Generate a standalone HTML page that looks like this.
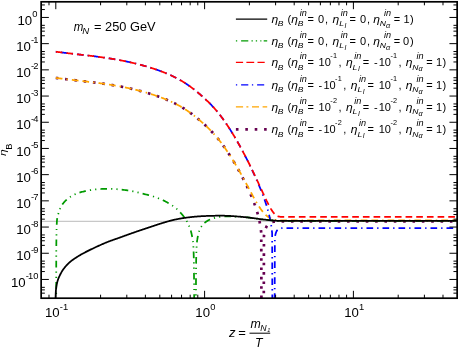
<!DOCTYPE html>
<html><head><meta charset="utf-8"><title>eta_B evolution</title>
<style>html,body{margin:0;padding:0;background:#fff;}body{width:460px;height:347px;overflow:hidden;position:relative;font-family:"Liberation Sans",sans-serif;}</style>
</head><body>
<svg width="460" height="347" viewBox="0 0 460 347" style="position:absolute;left:0;top:0;display:block" font-family="'Liberation Sans', sans-serif" fill="#000">
<defs><clipPath id="fr"><rect x="41.15" y="1.8" width="416.0" height="296.4"/></clipPath></defs>
<rect x="0" y="0" width="460" height="347" fill="#fff"/>
<line x1="41.15" y1="221.4" x2="457.15" y2="221.4" stroke="#c8c8c8" stroke-width="1.1"/>
<g clip-path="url(#fr)">
<path d="M55.80 77.92 L56.30 77.98 L56.80 78.05 L57.30 78.11 L57.80 78.18 L58.30 78.24 L58.80 78.30 L59.30 78.37 L59.80 78.43 L60.30 78.49 L60.80 78.56 L61.30 78.62 L61.80 78.68 L62.30 78.74 L62.80 78.80 L63.30 78.86 L63.80 78.92 L64.30 78.98 L64.80 79.04 L65.30 79.10 L65.80 79.16 L66.30 79.22 L66.80 79.28 L67.30 79.34 L67.80 79.40 L68.30 79.46 L68.80 79.51 L69.30 79.57 L69.80 79.63 L70.30 79.69 L70.80 79.75 L71.30 79.80 L71.80 79.86 L72.30 79.92 L72.80 79.98 L73.30 80.03 L73.80 80.09 L74.30 80.15 L74.80 80.20 L75.30 80.26 L75.80 80.32 L76.30 80.38 L76.80 80.43 L77.30 80.49 L77.80 80.55 L78.30 80.60 L78.80 80.66 L79.30 80.72 L79.80 80.77 L80.30 80.83 L80.80 80.89 L81.30 80.95 L81.80 81.00 L82.30 81.06 L82.80 81.12 L83.30 81.18 L83.80 81.23 L84.30 81.29 L84.80 81.35 L85.30 81.41 L85.80 81.47 L86.30 81.53 L86.80 81.59 L87.30 81.65 L87.80 81.70 L88.30 81.76 L88.80 81.82 L89.30 81.88 L89.80 81.94 L90.30 82.01 L90.80 82.07 L91.30 82.13 L91.80 82.19 L92.30 82.25 L92.80 82.31 L93.30 82.38 L93.80 82.44 L94.30 82.50 L94.80 82.57 L95.30 82.63 L95.80 82.69 L96.30 82.76 L96.80 82.82 L97.30 82.89 L97.80 82.95 L98.30 83.02 L98.80 83.09 L99.30 83.15 L99.80 83.22 L100.30 83.29 L100.80 83.36 L101.30 83.43 L101.80 83.50 L102.30 83.57 L102.80 83.64 L103.30 83.71 L103.80 83.78 L104.30 83.85 L104.80 83.92 L105.30 84.00 L105.80 84.07 L106.30 84.14 L106.80 84.22 L107.30 84.29 L107.80 84.37 L108.30 84.45 L108.80 84.52 L109.30 84.60 L109.80 84.68 L110.30 84.76 L110.80 84.84 L111.30 84.92 L111.80 85.00 L112.30 85.08 L112.80 85.16 L113.30 85.25 L113.80 85.33 L114.30 85.41 L114.80 85.50 L115.30 85.59 L115.80 85.67 L116.30 85.76 L116.80 85.85 L117.30 85.94 L117.80 86.02 L118.30 86.12 L118.80 86.21 L119.30 86.30 L119.80 86.39 L120.30 86.48 L120.80 86.58 L121.30 86.67 L121.80 86.77 L122.30 86.87 L122.80 86.96 L123.30 87.06 L123.80 87.16 L124.30 87.26 L124.80 87.36 L125.30 87.46 L125.80 87.57 L126.30 87.67 L126.80 87.77 L127.30 87.88 L127.80 87.99 L128.30 88.09 L128.80 88.20 L129.30 88.31 L129.80 88.42 L130.30 88.53 L130.80 88.64 L131.30 88.76 L131.80 88.87 L132.30 88.98 L132.80 89.10 L133.30 89.22 L133.80 89.33 L134.30 89.45 L134.80 89.57 L135.30 89.69 L135.80 89.82 L136.30 89.94 L136.80 90.06 L137.30 90.19 L137.80 90.32 L138.30 90.44 L138.80 90.57 L139.30 90.70 L139.80 90.83 L140.30 90.96 L140.80 91.10 L141.30 91.23 L141.80 91.36 L142.30 91.50 L142.80 91.64 L143.30 91.78 L143.80 91.92 L144.30 92.06 L144.80 92.20 L145.30 92.34 L145.80 92.49 L146.30 92.63 L146.80 92.78 L147.30 92.92 L147.80 93.07 L148.30 93.22 L148.80 93.38 L149.30 93.53 L149.80 93.68 L150.30 93.84 L150.80 93.99 L151.30 94.15 L151.80 94.31 L152.30 94.47 L152.80 94.63 L153.30 94.79 L153.80 94.96 L154.30 95.12 L154.80 95.29 L155.30 95.46 L155.80 95.63 L156.30 95.80 L156.80 95.97 L157.30 96.14 L157.80 96.32 L158.30 96.50 L158.80 96.67 L159.30 96.85 L159.80 97.04 L160.30 97.22 L160.80 97.40 L161.30 97.59 L161.80 97.78 L162.30 97.97 L162.80 98.16 L163.30 98.35 L163.80 98.55 L164.30 98.74 L164.80 98.94 L165.30 99.14 L165.80 99.35 L166.30 99.55 L166.80 99.76 L167.30 99.97 L167.80 100.18 L168.30 100.39 L168.80 100.61 L169.30 100.83 L169.80 101.05 L170.30 101.27 L170.80 101.50 L171.30 101.72 L171.80 101.96 L172.30 102.19 L172.80 102.43 L173.30 102.66 L173.80 102.91 L174.30 103.15 L174.80 103.40 L175.30 103.65 L175.80 103.91 L176.30 104.16 L176.80 104.42 L177.30 104.69 L177.80 104.96 L178.30 105.23 L178.80 105.50 L179.30 105.78 L179.80 106.06 L180.30 106.35 L180.80 106.63 L181.30 106.93 L181.80 107.22 L182.30 107.52 L182.80 107.83 L183.30 108.14 L183.80 108.45 L184.30 108.76 L184.80 109.08 L185.30 109.40 L185.80 109.73 L186.30 110.06 L186.80 110.40 L187.30 110.74 L187.80 111.08 L188.30 111.43 L188.80 111.78 L189.30 112.13 L189.80 112.49 L190.30 112.85 L190.80 113.22 L191.30 113.59 L191.80 113.96 L192.30 114.34 L192.80 114.72 L193.30 115.10 L193.80 115.49 L194.30 115.88 L194.80 116.28 L195.30 116.67 L195.80 117.08 L196.30 117.48 L196.80 117.89 L197.30 118.30 L197.80 118.72 L198.30 119.14 L198.80 119.56 L199.30 119.98 L199.80 120.41 L200.30 120.84 L200.80 121.27 L201.30 121.71 L201.80 122.15 L202.30 122.59 L202.80 123.04 L203.30 123.49 L203.80 123.94 L204.30 124.40 L204.80 124.86 L205.30 125.32 L205.80 125.78 L206.30 126.25 L206.80 126.73 L207.30 127.20 L207.80 127.69 L208.30 128.17 L208.80 128.66 L209.30 129.16 L209.80 129.66 L210.30 130.16 L210.80 130.67 L211.30 131.19 L211.80 131.71 L212.30 132.23 L212.80 132.77 L213.30 133.31 L213.80 133.85 L214.30 134.41 L214.80 134.97 L215.30 135.54 L215.80 136.11 L216.30 136.70 L216.80 137.29 L217.30 137.89 L217.80 138.49 L218.30 139.11 L218.80 139.73 L219.30 140.36 L219.80 141.00 L220.30 141.65 L220.80 142.30 L221.30 142.96 L221.80 143.63 L222.30 144.31 L222.80 145.00 L223.30 145.69 L223.80 146.39 L224.30 147.09 L224.80 147.81 L225.30 148.53 L225.80 149.26 L226.30 149.99 L226.80 150.73 L227.30 151.48 L227.80 152.24 L228.30 153.00 L228.80 153.77 L229.30 154.54 L229.80 155.33 L230.30 156.11 L230.80 156.91 L231.30 157.71 L231.80 158.52 L232.30 159.34 L232.80 160.16 L233.30 160.99 L233.80 161.82 L234.30 162.66 L234.80 163.51 L235.30 164.37 L235.80 165.23 L236.30 166.09 L236.80 166.97 L237.30 167.85 L237.80 168.74 L238.30 169.63 L238.80 170.53 L239.30 171.44 L239.80 172.36 L240.30 173.28 L240.80 174.21 L241.30 175.15 L241.80 176.10 L242.30 177.05 L242.80 178.01 L243.30 178.98 L243.80 179.96 L244.30 180.95 L244.80 181.94 L245.30 182.95 L245.80 183.96 L246.30 184.99 L246.80 186.02 L247.30 187.07 L247.80 188.13 L248.30 189.20 L248.80 190.29 L249.30 191.39 L249.80 192.50 L250.00 192.95 L250.05 193.07 L250.10 193.18 L250.15 193.29 L250.20 193.41 L250.25 193.52 L250.30 193.63 L250.35 193.75 L250.40 193.86 L250.45 193.98 L250.50 194.09 L250.55 194.21 L250.60 194.32 L250.65 194.44 L250.70 194.55 L250.75 194.67 L250.80 194.78 L250.85 194.90 L250.90 195.01 L250.95 195.13 L251.00 195.25 L251.05 195.36 L251.10 195.48 L251.15 195.60 L251.20 195.71 L251.25 195.83 L251.30 195.95 L251.35 196.07 L251.40 196.19 L251.45 196.30 L251.50 196.42 L251.55 196.54 L251.60 196.66 L251.65 196.78 L251.70 196.90 L251.75 197.02 L251.80 197.14 L251.85 197.26 L251.90 197.38 L251.95 197.50 L252.00 197.62 L252.05 197.74 L252.10 197.86 L252.15 197.98 L252.20 198.10 L252.25 198.23 L252.30 198.35 L252.35 198.47 L252.40 198.59 L252.45 198.72 L252.50 198.84 L252.55 198.96 L252.60 199.09 L252.65 199.21 L252.70 199.34 L252.75 199.46 L252.80 199.58 L252.85 199.71 L252.90 199.83 L252.95 199.96 L253.00 200.09 L253.05 200.21 L253.10 200.34 L253.15 200.47 L253.20 200.59 L253.25 200.72 L253.30 200.85 L253.35 200.97 L253.40 201.10 L253.45 201.23 L253.50 201.36 L253.55 201.49 L253.60 201.62 L253.65 201.75 L253.70 201.88 L253.75 202.01 L253.80 202.14 L253.85 202.27 L253.90 202.40 L253.95 202.53 L254.00 202.67 L254.05 202.80 L254.10 202.93 L254.15 203.07 L254.20 203.20 L254.25 203.33 L254.30 203.47 L254.35 203.60 L254.40 203.74 L254.45 203.87 L254.50 204.01 L254.55 204.15 L254.60 204.28 L254.65 204.42 L254.70 204.56 L254.75 204.69 L254.80 204.83 L254.85 204.97 L254.90 205.11 L254.95 205.25 L255.00 205.39 L255.05 205.53 L255.10 205.67 L255.15 205.81 L255.20 205.96 L255.25 206.10 L255.30 206.24 L255.35 206.39 L255.40 206.53 L255.45 206.67 L255.50 206.82 L255.55 206.97 L255.60 207.11 L255.65 207.26 L255.70 207.41 L255.75 207.55 L255.80 207.70 L255.85 207.85 L255.90 208.00 L255.95 208.15 L256.00 208.30 L256.05 208.45 L256.10 208.60 L256.15 208.76 L256.20 208.91 L256.25 209.06 L256.30 209.22 L256.35 209.37 L256.40 209.53 L256.45 209.69 L256.50 209.84 L256.55 210.00 L256.60 210.16 L256.65 210.32 L256.70 210.48 L256.75 210.64 L256.80 210.80 L256.85 210.97 L256.90 211.13 L256.95 211.30 L257.00 211.46 L257.05 211.63 L257.10 211.79 L257.15 211.96 L257.20 212.13 L257.25 212.30 L257.30 212.47 L257.35 212.64 L257.40 212.82 L257.45 212.99 L257.50 213.16 L257.55 213.34 L257.60 213.52 L257.65 213.69 L257.70 213.87 L257.75 214.05 L257.80 214.24 L257.85 214.42 L257.90 214.60 L257.95 214.79 L258.00 214.97 L258.05 215.16 L258.10 215.35 L258.15 215.54 L258.20 215.73 L258.25 215.93 L258.30 216.12 L258.35 216.32 L258.40 216.51 L258.45 216.71 L258.50 216.91 L258.55 217.12 L258.60 217.32 L258.65 217.53 L258.70 217.73 L258.75 217.94 L258.80 218.15 L258.85 218.37 L258.90 218.58 L258.95 218.80 L259.00 219.02 L259.05 219.24 L259.10 219.47 L259.15 219.69 L259.20 219.92 L259.25 220.15 L259.30 220.39 L259.35 220.62 L259.40 220.86 L259.45 221.10 L259.50 221.35 L259.55 221.59 L259.60 221.84 L259.65 222.10 L259.70 222.35 L259.75 222.61 L259.80 222.88 L259.85 223.14 L259.90 223.41 L259.95 223.69 L260.00 223.97 L260.05 224.25 L260.10 224.54 L260.15 224.83 L260.20 225.13 L260.25 225.43 L260.30 225.73 L260.35 226.05 L260.40 226.36 L260.45 226.69 L260.50 227.02 L260.55 227.35 L260.60 227.70 L260.65 228.05 L260.70 228.40 L260.75 228.77 L260.80 229.14 L260.85 229.53 L260.90 229.92 L260.95 230.32 L261.00 230.74 L261.05 231.16 L261.10 231.60 L261.15 232.04 L261.20 232.51 L261.25 232.98 L261.45 312.00 L263.75 312.00 L263.95 235.84 L264.00 235.49 L264.05 235.15 L264.10 234.82 L264.15 234.51 L264.20 234.21 L264.25 233.92 L264.30 233.64 L264.35 233.37 L264.40 233.10 L264.45 232.85 L264.50 232.60 L264.55 232.37 L264.60 232.14 L264.65 231.91 L264.70 231.70 L264.75 231.48 L264.80 231.28 L264.85 231.08 L264.90 230.89 L264.95 230.70 L265.00 230.52 L265.05 230.34 L265.10 230.16 L265.15 230.00 L265.20 229.83 L265.25 229.67 L265.30 229.51 L265.35 229.36 L265.40 229.21 L265.45 229.06 L265.50 228.92 L265.55 228.78 L265.60 228.65 L265.65 228.51 L265.70 228.38 L265.75 228.25 L265.80 228.13 L265.85 228.01 L265.90 227.89 L265.95 227.77 L266.00 227.66 L266.05 227.55 L266.10 227.44 L266.15 227.33 L266.20 227.22 L266.25 227.12 L266.30 227.02 L266.35 226.92 L266.40 226.82 L266.45 226.73 L266.50 226.64 L266.55 226.54 L266.60 226.45 L266.65 226.37 L266.70 226.28 L266.75 226.19 L266.80 226.11 L266.85 226.03 L266.90 225.95 L266.95 225.87 L267.00 225.79 L267.05 225.72 L267.10 225.64 L267.15 225.57 L267.20 225.50 L267.25 225.43 L267.30 225.36 L267.35 225.29 L267.40 225.22 L267.45 225.16 L267.50 225.09 L267.55 225.03 L267.60 224.96 L267.65 224.90 L267.70 224.84 L267.75 224.78 L267.80 224.72 L267.85 224.67 L267.90 224.61 L267.95 224.55 L268.00 224.50 L268.05 224.45 L268.10 224.39 L268.15 224.34 L268.20 224.29 L268.25 224.24 L268.30 224.19 L268.35 224.14 L268.40 224.09 L268.45 224.05 L268.50 224.00 L268.55 223.95 L268.60 223.91 L268.65 223.87 L268.70 223.82 L268.75 223.78 L268.80 223.74 L268.85 223.70 L268.90 223.65 L268.95 223.61 L269.00 223.57 L269.05 223.54 L269.10 223.50 L269.15 223.46 L269.20 223.42 L269.25 223.39 L269.30 223.35 L269.35 223.32 L269.40 223.28 L269.45 223.25 L269.50 223.21 L269.55 223.18 L269.60 223.15 L269.65 223.11 L269.70 223.08 L269.75 223.05 L269.80 223.02 L269.85 222.99 L269.90 222.96 L269.95 222.93 L270.00 222.90 L270.05 222.87 L270.10 222.85 L270.15 222.82 L270.20 222.79 L270.25 222.77 L270.30 222.74 L270.35 222.71 L270.40 222.69 L270.45 222.66 L270.50 222.64 L270.55 222.61 L270.60 222.59 L270.65 222.57 L270.70 222.54 L270.75 222.52 L270.80 222.50 L270.85 222.48 L270.90 222.45 L270.95 222.43 L271.00 222.41 L271.05 222.39 L271.10 222.37 L271.15 222.35 L271.20 222.33 L271.25 222.31 L271.30 222.29 L271.35 222.27 L271.40 222.26 L271.45 222.24 L271.50 222.22 L271.55 222.20 L271.60 222.19 L271.65 222.17 L271.70 222.15 L271.75 222.14 L271.80 222.12 L271.85 222.10 L271.90 222.09 L271.95 222.07 L272.00 222.06 L272.05 222.04 L272.10 222.03 L272.15 222.01 L272.20 222.00 L272.25 221.99 L272.30 221.97 L272.35 221.96 L272.40 221.95 L272.45 221.93 L272.50 221.92 L272.55 221.91 L272.60 221.90 L272.65 221.88 L272.70 221.87 L272.75 221.86 L272.80 221.85 L272.85 221.84 L272.90 221.83 L272.95 221.82 L273.00 221.81 L273.05 221.80 L273.10 221.79 L273.15 221.78 L273.20 221.77 L273.25 221.76 L273.30 221.75 L273.35 221.74 L273.40 221.73 L273.45 221.72 L273.50 221.71 L273.55 221.70 L273.60 221.69 L273.65 221.69 L273.70 221.68 L273.75 221.67 L273.80 221.66 L273.85 221.66 L273.90 221.65 L273.95 221.64 L274.00 221.63 L274.05 221.63 L274.10 221.62 L274.15 221.61 L274.20 221.61 L274.25 221.60 L274.30 221.59 L274.35 221.59 L274.40 221.58 L274.45 221.58 L274.50 221.57 L274.55 221.56 L274.60 221.56 L274.65 221.55 L274.70 221.55 L274.75 221.54 L274.80 221.54 L274.85 221.53 L274.90 221.53 L274.95 221.52 L275.00 221.52 L275.05 221.51 L275.10 221.51 L275.15 221.51 L275.20 221.50 L275.25 221.50 L275.30 221.49 L275.35 221.49 L275.40 221.49 L275.45 221.48 L275.50 221.48 L275.55 221.47 L275.60 221.47 L275.65 221.47 L275.70 221.46 L275.75 221.46 L275.80 221.46 L275.85 221.46 L275.90 221.45 L275.95 221.45 L276.00 221.45 L276.05 221.44 L276.10 221.44 L276.15 221.44 L276.20 221.44 L276.25 221.43 L276.30 221.43 L276.35 221.43 L276.40 221.43 L276.45 221.43 L276.50 221.42 L276.55 221.42 L276.60 221.42 L276.65 221.42 L276.70 221.42 L276.75 221.41 L276.80 221.41 L276.85 221.41 L276.90 221.41 L276.95 221.41 L277.00 221.41 L277.05 221.40 L277.10 221.40 L277.15 221.40 L277.20 221.40 L277.25 221.40 L277.30 221.40 L277.35 221.40 L277.40 221.39 L277.45 221.39 L277.50 221.39 L277.55 221.39 L277.60 221.39 L277.65 221.39 L277.70 221.39 L277.75 221.39 L277.80 221.39 L277.85 221.39 L277.90 221.38 L277.95 221.38 L278.00 221.38 L278.05 221.38 L278.10 221.38 L278.15 221.38 L278.20 221.38 L278.25 221.38 L278.30 221.38 L278.35 221.38 L278.40 221.38 L278.45 221.38 L278.50 221.38 L278.55 221.38 L278.60 221.37 L278.65 221.37 L278.70 221.37 L278.75 221.37 L278.80 221.37 L278.85 221.37 L278.90 221.37 L278.95 221.37 L279.00 221.37 L279.05 221.37 L279.10 221.37 L279.15 221.37 L279.20 221.37 L279.25 221.37 L279.30 221.37 L279.35 221.37 L279.40 221.37 L279.45 221.37 L279.50 221.37 L279.55 221.37 L279.60 221.36 L279.65 221.36 L279.70 221.36 L279.75 221.36 L279.80 221.36 L279.85 221.36 L279.90 221.36 L279.95 221.36 L280.00 221.36 L280.05 221.36 L280.10 221.35 L280.15 221.35 L280.20 221.35 L280.25 221.35 L280.30 221.35 L280.35 221.35 L280.40 221.35 L280.45 221.35 L280.50 221.35 L280.55 221.35 L280.60 221.35 L280.65 221.35 L280.70 221.35 L280.75 221.35 L280.80 221.35 L280.85 221.35 L280.90 221.34 L280.95 221.34 L281.00 221.34 L281.05 221.34 L281.10 221.34 L281.15 221.34 L281.20 221.34 L281.25 221.34 L281.30 221.34 L281.35 221.34 L281.40 221.34 L281.45 221.34 L281.50 221.34 L281.55 221.34 L281.60 221.34 L281.65 221.34 L281.70 221.34 L281.75 221.34 L281.80 221.34 L281.85 221.34 L281.90 221.34 L281.95 221.34 L282.00 221.34 L282.05 221.34 L282.10 221.34 L282.15 221.34 L282.20 221.34 L282.25 221.34 L282.30 221.34 L282.35 221.34 L282.40 221.33 L282.45 221.33 L282.50 221.33 L282.55 221.33 L282.60 221.33 L282.65 221.33 L282.70 221.33 L282.75 221.33 L282.80 221.33 L282.85 221.33 L282.90 221.33 L282.95 221.33 L283.00 221.33 L283.05 221.33 L283.10 221.33 L283.15 221.33 L283.20 221.33 L283.25 221.33 L283.30 221.33 L283.35 221.33 L283.40 221.33 L283.45 221.33 L283.50 221.33 L283.55 221.33 L283.60 221.33 L283.65 221.33 L283.70 221.33 L283.75 221.33 L283.80 221.33 L283.85 221.33 L283.90 221.33 L283.95 221.33 L284.00 221.33 L284.05 221.33 L284.10 221.33 L284.15 221.33 L284.20 221.33 L284.25 221.33 L284.30 221.33 L284.35 221.33 L284.40 221.33 L284.45 221.33 L284.50 221.33 L284.55 221.33 L284.60 221.33 L284.65 221.33 L284.70 221.33 L284.75 221.33 L284.80 221.33 L284.85 221.33 L284.90 221.33 L284.95 221.33 L285.00 221.33 L285.05 221.33 L285.10 221.33 L285.15 221.33 L285.20 221.33 L285.25 221.33 L285.30 221.33 L285.35 221.33 L285.40 221.33 L285.45 221.33 L285.50 221.33 L285.55 221.33 L285.60 221.33 L285.65 221.33 L285.70 221.33 L285.75 221.33 L285.80 221.33 L285.85 221.33 L285.90 221.33 L285.95 221.33 L286.00 221.33 L286.05 221.33 L286.10 221.33 L286.15 221.33 L286.20 221.33 L286.25 221.33 L286.30 221.33 L286.35 221.33 L286.40 221.33 L286.45 221.33 L286.50 221.33 L286.55 221.33 L286.60 221.33 L286.65 221.33 L286.70 221.33 L286.75 221.33 L286.80 221.33 L286.85 221.33 L286.90 221.33 L286.95 221.33 L287.00 221.33 L287.05 221.33 L287.10 221.33 L287.15 221.33 L287.20 221.33 L287.25 221.33 L287.30 221.33 L287.35 221.33 L287.40 221.33 L287.45 221.33 L287.50 221.33 L287.55 221.33 L287.60 221.33 L287.65 221.33 L287.70 221.33 L287.75 221.33 L287.80 221.33 L287.85 221.33 L287.90 221.33 L287.95 221.33 L288.00 221.33 L288.05 221.33 L288.10 221.33 L288.15 221.33 L288.20 221.33 L288.25 221.33 L288.30 221.33 L288.35 221.33 L288.40 221.33 L288.45 221.33 L288.50 221.33 L288.55 221.33 L288.60 221.33 L288.65 221.33 L288.70 221.33 L288.75 221.33 L288.80 221.33 L288.85 221.33 L288.90 221.33 L288.95 221.33 L289.00 221.33 L289.05 221.33 L289.10 221.33 L289.15 221.33 L289.20 221.33 L289.25 221.33 L289.30 221.33 L289.35 221.33 L289.40 221.33 L289.45 221.33 L289.50 221.33 L289.55 221.33 L289.60 221.33 L289.65 221.33 L289.70 221.33 L289.75 221.33 L289.80 221.33 L289.85 221.33 L289.90 221.33 L289.95 221.33 L290.00 221.33 L291.00 221.33 L292.00 221.33 L293.00 221.33 L294.00 221.33 L295.00 221.33 L296.00 221.33 L297.00 221.33 L298.00 221.33 L299.00 221.33 L300.00 221.33 L301.00 221.33 L302.00 221.33 L303.00 221.33 L304.00 221.33 L305.00 221.33 L306.00 221.33 L307.00 221.33 L308.00 221.33 L309.00 221.33 L310.00 221.33 L311.00 221.33 L312.00 221.33 L313.00 221.33 L314.00 221.33 L315.00 221.33 L316.00 221.33 L317.00 221.33 L318.00 221.33 L319.00 221.33 L320.00 221.33 L321.00 221.33 L322.00 221.33 L323.00 221.33 L324.00 221.33 L325.00 221.33 L326.00 221.33 L327.00 221.33 L328.00 221.33 L329.00 221.33 L330.00 221.33 L331.00 221.33 L332.00 221.33 L333.00 221.33 L334.00 221.33 L335.00 221.33 L336.00 221.33 L337.00 221.33 L338.00 221.33 L339.00 221.33 L340.00 221.33 L341.00 221.33 L342.00 221.33 L343.00 221.33 L344.00 221.33 L345.00 221.33 L346.00 221.33 L347.00 221.33 L348.00 221.33 L349.00 221.33 L350.00 221.33 L351.00 221.33 L352.00 221.33 L353.00 221.33 L354.00 221.33 L355.00 221.33 L356.00 221.33 L357.00 221.33 L358.00 221.33 L359.00 221.33 L360.00 221.33 L361.00 221.33 L362.00 221.33 L363.00 221.33 L364.00 221.33 L365.00 221.33 L366.00 221.33 L367.00 221.33 L368.00 221.33 L369.00 221.33 L370.00 221.33 L371.00 221.33 L372.00 221.33 L373.00 221.33 L374.00 221.33 L375.00 221.33 L376.00 221.33 L377.00 221.33 L378.00 221.33 L379.00 221.33 L380.00 221.33 L381.00 221.33 L382.00 221.33 L383.00 221.33 L384.00 221.33 L385.00 221.33 L386.00 221.33 L387.00 221.33 L388.00 221.33 L389.00 221.33 L390.00 221.33 L391.00 221.33 L392.00 221.33 L393.00 221.33 L394.00 221.33 L395.00 221.33 L396.00 221.33 L397.00 221.33 L398.00 221.33 L399.00 221.33 L400.00 221.33 L401.00 221.33 L402.00 221.33 L403.00 221.33 L404.00 221.33 L405.00 221.33 L406.00 221.33 L407.00 221.33 L408.00 221.33 L409.00 221.33 L410.00 221.33 L411.00 221.33 L412.00 221.33 L413.00 221.33 L414.00 221.33 L415.00 221.33 L416.00 221.33 L417.00 221.33 L418.00 221.33 L419.00 221.33 L420.00 221.33 L421.00 221.33 L422.00 221.33 L423.00 221.33 L424.00 221.33 L425.00 221.33 L426.00 221.33 L427.00 221.33 L428.00 221.33 L429.00 221.33 L430.00 221.33 L431.00 221.33 L432.00 221.33 L433.00 221.33 L434.00 221.33 L435.00 221.33 L436.00 221.33 L437.00 221.33 L438.00 221.33 L439.00 221.33 L440.00 221.33 L441.00 221.33 L442.00 221.33 L443.00 221.33 L444.00 221.33 L445.00 221.33 L446.00 221.33 L447.00 221.33 L448.00 221.33 L449.00 221.33 L450.00 221.33 L451.00 221.33 L452.00 221.33 L453.00 221.33 L454.00 221.33 L455.00 221.33 L456.00 221.33 L457.00 221.33" fill="none" stroke="#660050" stroke-width="2.70" stroke-linejoin="round" stroke-dasharray="2.6 6.75"/>
<path d="M55.80 77.92 L56.30 77.98 L56.80 78.05 L57.30 78.11 L57.80 78.18 L58.30 78.24 L58.80 78.30 L59.30 78.37 L59.80 78.43 L60.30 78.49 L60.80 78.56 L61.30 78.62 L61.80 78.68 L62.30 78.74 L62.80 78.80 L63.30 78.86 L63.80 78.92 L64.30 78.98 L64.80 79.04 L65.30 79.10 L65.80 79.16 L66.30 79.22 L66.80 79.28 L67.30 79.34 L67.80 79.40 L68.30 79.46 L68.80 79.51 L69.30 79.57 L69.80 79.63 L70.30 79.69 L70.80 79.75 L71.30 79.80 L71.80 79.86 L72.30 79.92 L72.80 79.98 L73.30 80.03 L73.80 80.09 L74.30 80.15 L74.80 80.20 L75.30 80.26 L75.80 80.32 L76.30 80.38 L76.80 80.43 L77.30 80.49 L77.80 80.55 L78.30 80.60 L78.80 80.66 L79.30 80.72 L79.80 80.77 L80.30 80.83 L80.80 80.89 L81.30 80.95 L81.80 81.00 L82.30 81.06 L82.80 81.12 L83.30 81.18 L83.80 81.23 L84.30 81.29 L84.80 81.35 L85.30 81.41 L85.80 81.47 L86.30 81.53 L86.80 81.59 L87.30 81.65 L87.80 81.70 L88.30 81.76 L88.80 81.82 L89.30 81.88 L89.80 81.94 L90.30 82.01 L90.80 82.07 L91.30 82.13 L91.80 82.19 L92.30 82.25 L92.80 82.31 L93.30 82.38 L93.80 82.44 L94.30 82.50 L94.80 82.57 L95.30 82.63 L95.80 82.69 L96.30 82.76 L96.80 82.82 L97.30 82.89 L97.80 82.95 L98.30 83.02 L98.80 83.09 L99.30 83.15 L99.80 83.22 L100.30 83.29 L100.80 83.36 L101.30 83.43 L101.80 83.50 L102.30 83.57 L102.80 83.64 L103.30 83.71 L103.80 83.78 L104.30 83.85 L104.80 83.92 L105.30 84.00 L105.80 84.07 L106.30 84.14 L106.80 84.22 L107.30 84.29 L107.80 84.37 L108.30 84.45 L108.80 84.52 L109.30 84.60 L109.80 84.68 L110.30 84.76 L110.80 84.84 L111.30 84.92 L111.80 85.00 L112.30 85.08 L112.80 85.16 L113.30 85.25 L113.80 85.33 L114.30 85.41 L114.80 85.50 L115.30 85.59 L115.80 85.67 L116.30 85.76 L116.80 85.85 L117.30 85.94 L117.80 86.02 L118.30 86.12 L118.80 86.21 L119.30 86.30 L119.80 86.39 L120.30 86.48 L120.80 86.58 L121.30 86.67 L121.80 86.77 L122.30 86.87 L122.80 86.96 L123.30 87.06 L123.80 87.16 L124.30 87.26 L124.80 87.36 L125.30 87.46 L125.80 87.57 L126.30 87.67 L126.80 87.77 L127.30 87.88 L127.80 87.99 L128.30 88.09 L128.80 88.20 L129.30 88.31 L129.80 88.42 L130.30 88.53 L130.80 88.64 L131.30 88.76 L131.80 88.87 L132.30 88.98 L132.80 89.10 L133.30 89.22 L133.80 89.33 L134.30 89.45 L134.80 89.57 L135.30 89.69 L135.80 89.82 L136.30 89.94 L136.80 90.06 L137.30 90.19 L137.80 90.32 L138.30 90.44 L138.80 90.57 L139.30 90.70 L139.80 90.83 L140.30 90.96 L140.80 91.10 L141.30 91.23 L141.80 91.36 L142.30 91.50 L142.80 91.64 L143.30 91.78 L143.80 91.92 L144.30 92.06 L144.80 92.20 L145.30 92.34 L145.80 92.48 L146.30 92.63 L146.80 92.78 L147.30 92.92 L147.80 93.07 L148.30 93.22 L148.80 93.38 L149.30 93.53 L149.80 93.68 L150.30 93.84 L150.80 93.99 L151.30 94.15 L151.80 94.31 L152.30 94.47 L152.80 94.63 L153.30 94.79 L153.80 94.96 L154.30 95.12 L154.80 95.29 L155.30 95.46 L155.80 95.63 L156.30 95.80 L156.80 95.97 L157.30 96.14 L157.80 96.32 L158.30 96.50 L158.80 96.67 L159.30 96.85 L159.80 97.04 L160.30 97.22 L160.80 97.40 L161.30 97.59 L161.80 97.78 L162.30 97.97 L162.80 98.16 L163.30 98.35 L163.80 98.55 L164.30 98.74 L164.80 98.94 L165.30 99.14 L165.80 99.35 L166.30 99.55 L166.80 99.76 L167.30 99.97 L167.80 100.18 L168.30 100.39 L168.80 100.61 L169.30 100.83 L169.80 101.05 L170.30 101.27 L170.80 101.50 L171.30 101.72 L171.80 101.95 L172.30 102.19 L172.80 102.42 L173.30 102.66 L173.80 102.91 L174.30 103.15 L174.80 103.40 L175.30 103.65 L175.80 103.90 L176.30 104.16 L176.80 104.42 L177.30 104.69 L177.80 104.95 L178.30 105.23 L178.80 105.50 L179.30 105.78 L179.80 106.06 L180.30 106.34 L180.80 106.63 L181.30 106.93 L181.80 107.22 L182.30 107.52 L182.80 107.83 L183.30 108.13 L183.80 108.45 L184.30 108.76 L184.80 109.08 L185.30 109.40 L185.80 109.73 L186.30 110.06 L186.80 110.40 L187.30 110.73 L187.80 111.08 L188.30 111.42 L188.80 111.77 L189.30 112.13 L189.80 112.49 L190.30 112.85 L190.80 113.21 L191.30 113.58 L191.80 113.96 L192.30 114.33 L192.80 114.71 L193.30 115.10 L193.80 115.49 L194.30 115.88 L194.80 116.27 L195.30 116.67 L195.80 117.07 L196.30 117.48 L196.80 117.89 L197.30 118.30 L197.80 118.71 L198.30 119.13 L198.80 119.55 L199.30 119.98 L199.80 120.41 L200.30 120.84 L200.80 121.27 L201.30 121.71 L201.80 122.15 L202.30 122.59 L202.80 123.03 L203.30 123.48 L203.80 123.93 L204.30 124.39 L204.80 124.85 L205.30 125.31 L205.80 125.78 L206.30 126.24 L206.80 126.72 L207.30 127.19 L207.80 127.68 L208.30 128.16 L208.80 128.65 L209.30 129.15 L209.80 129.64 L210.30 130.15 L210.80 130.66 L211.30 131.17 L211.80 131.69 L212.30 132.22 L212.80 132.75 L213.30 133.29 L213.80 133.84 L214.30 134.39 L214.80 134.95 L215.30 135.52 L215.80 136.09 L216.30 136.67 L216.80 137.26 L217.30 137.86 L217.80 138.47 L218.30 139.08 L218.80 139.70 L219.30 140.33 L219.80 140.97 L220.30 141.61 L220.80 142.27 L221.30 142.93 L221.80 143.59 L222.30 144.27 L222.80 144.95 L223.30 145.64 L223.80 146.34 L224.30 147.04 L224.80 147.75 L225.30 148.47 L225.80 149.19 L226.30 149.92 L226.80 150.66 L227.30 151.40 L227.80 152.15 L228.30 152.91 L228.80 153.67 L229.30 154.44 L229.80 155.22 L230.30 156.00 L230.80 156.78 L231.30 157.58 L231.80 158.38 L232.30 159.18 L232.80 159.99 L233.30 160.81 L233.80 161.63 L234.30 162.46 L234.80 163.29 L235.30 164.13 L235.80 164.97 L236.30 165.82 L236.80 166.68 L237.30 167.54 L237.80 168.40 L238.30 169.27 L238.80 170.14 L239.30 171.02 L239.80 171.91 L240.30 172.79 L240.80 173.68 L241.30 174.58 L241.80 175.48 L242.30 176.38 L242.80 177.29 L243.30 178.20 L243.80 179.12 L244.30 180.03 L244.80 180.95 L245.30 181.88 L245.80 182.80 L246.30 183.73 L246.80 184.66 L247.30 185.59 L247.80 186.52 L248.30 187.45 L248.80 188.39 L249.30 189.32 L249.80 190.25 L250.00 190.62 L250.05 190.72 L250.10 190.81 L250.15 190.90 L250.20 191.00 L250.25 191.09 L250.30 191.18 L250.35 191.27 L250.40 191.37 L250.45 191.46 L250.50 191.55 L250.55 191.65 L250.60 191.74 L250.65 191.83 L250.70 191.92 L250.75 192.02 L250.80 192.11 L250.85 192.20 L250.90 192.30 L250.95 192.39 L251.00 192.48 L251.05 192.57 L251.10 192.67 L251.15 192.76 L251.20 192.85 L251.25 192.94 L251.30 193.04 L251.35 193.13 L251.40 193.22 L251.45 193.31 L251.50 193.41 L251.55 193.50 L251.60 193.59 L251.65 193.68 L251.70 193.78 L251.75 193.87 L251.80 193.96 L251.85 194.05 L251.90 194.15 L251.95 194.24 L252.00 194.33 L252.05 194.42 L252.10 194.51 L252.15 194.61 L252.20 194.70 L252.25 194.79 L252.30 194.88 L252.35 194.97 L252.40 195.07 L252.45 195.16 L252.50 195.25 L252.55 195.34 L252.60 195.43 L252.65 195.52 L252.70 195.62 L252.75 195.71 L252.80 195.80 L252.85 195.89 L252.90 195.98 L252.95 196.07 L253.00 196.16 L253.05 196.26 L253.10 196.35 L253.15 196.44 L253.20 196.53 L253.25 196.62 L253.30 196.71 L253.35 196.80 L253.40 196.89 L253.45 196.98 L253.50 197.07 L253.55 197.16 L253.60 197.26 L253.65 197.35 L253.70 197.44 L253.75 197.53 L253.80 197.62 L253.85 197.71 L253.90 197.80 L253.95 197.89 L254.00 197.98 L254.05 198.07 L254.10 198.16 L254.15 198.25 L254.20 198.34 L254.25 198.43 L254.30 198.52 L254.35 198.61 L254.40 198.70 L254.45 198.79 L254.50 198.87 L254.55 198.96 L254.60 199.05 L254.65 199.14 L254.70 199.23 L254.75 199.32 L254.80 199.41 L254.85 199.50 L254.90 199.59 L254.95 199.67 L255.00 199.76 L255.05 199.85 L255.10 199.94 L255.15 200.03 L255.20 200.12 L255.25 200.20 L255.30 200.29 L255.35 200.38 L255.40 200.47 L255.45 200.56 L255.50 200.64 L255.55 200.73 L255.60 200.82 L255.65 200.91 L255.70 200.99 L255.75 201.08 L255.80 201.17 L255.85 201.25 L255.90 201.34 L255.95 201.43 L256.00 201.51 L256.05 201.60 L256.10 201.69 L256.15 201.77 L256.20 201.86 L256.25 201.94 L256.30 202.03 L256.35 202.12 L256.40 202.20 L256.45 202.29 L256.50 202.37 L256.55 202.46 L256.60 202.54 L256.65 202.63 L256.70 202.71 L256.75 202.80 L256.80 202.88 L256.85 202.97 L256.90 203.05 L256.95 203.14 L257.00 203.22 L257.05 203.30 L257.10 203.39 L257.15 203.47 L257.20 203.56 L257.25 203.64 L257.30 203.72 L257.35 203.81 L257.40 203.89 L257.45 203.97 L257.50 204.05 L257.55 204.14 L257.60 204.22 L257.65 204.30 L257.70 204.38 L257.75 204.47 L257.80 204.55 L257.85 204.63 L257.90 204.71 L257.95 204.79 L258.00 204.87 L258.05 204.96 L258.10 205.04 L258.15 205.12 L258.20 205.20 L258.25 205.28 L258.30 205.36 L258.35 205.44 L258.40 205.52 L258.45 205.60 L258.50 205.68 L258.55 205.76 L258.60 205.84 L258.65 205.92 L258.70 206.00 L258.75 206.07 L258.80 206.15 L258.85 206.23 L258.90 206.31 L258.95 206.39 L259.00 206.47 L259.05 206.54 L259.10 206.62 L259.15 206.70 L259.20 206.78 L259.25 206.85 L259.30 206.93 L259.35 207.01 L259.40 207.08 L259.45 207.16 L259.50 207.24 L259.55 207.31 L259.60 207.39 L259.65 207.46 L259.70 207.54 L259.75 207.61 L259.80 207.69 L259.85 207.76 L259.90 207.84 L259.95 207.91 L260.00 207.99 L260.05 208.06 L260.10 208.13 L260.15 208.21 L260.20 208.28 L260.25 208.36 L260.30 208.43 L260.35 208.50 L260.40 208.57 L260.45 208.65 L260.50 208.72 L260.55 208.79 L260.60 208.86 L260.65 208.93 L260.70 209.00 L260.75 209.08 L260.80 209.15 L260.85 209.22 L260.90 209.29 L260.95 209.36 L261.00 209.43 L261.05 209.50 L261.10 209.57 L261.15 209.64 L261.20 209.70 L261.25 209.77 L261.30 209.84 L261.35 209.91 L261.40 209.98 L261.45 210.05 L261.50 210.11 L261.55 210.18 L261.60 210.25 L261.65 210.32 L261.70 210.38 L261.75 210.45 L261.80 210.52 L261.85 210.58 L261.90 210.65 L261.95 210.71 L262.00 210.78 L262.05 210.84 L262.10 210.91 L262.15 210.97 L262.20 211.04 L262.25 211.10 L262.30 211.16 L262.35 211.23 L262.40 211.29 L262.45 211.35 L262.50 211.42 L262.55 211.48 L262.60 211.54 L262.65 211.60 L262.70 211.67 L262.75 211.73 L262.80 211.79 L262.85 211.85 L262.90 211.91 L262.95 211.97 L263.00 212.03 L263.05 212.09 L263.10 212.15 L263.15 212.21 L263.20 212.27 L263.25 212.33 L263.30 212.39 L263.35 212.45 L263.40 212.50 L263.45 212.56 L263.50 212.62 L263.55 212.68 L263.60 212.74 L263.65 212.79 L263.70 212.85 L263.75 212.91 L263.80 212.96 L263.85 213.02 L263.90 213.07 L263.95 213.13 L264.00 213.18 L264.05 213.24 L264.10 213.29 L264.15 213.35 L264.20 213.40 L264.25 213.46 L264.30 213.51 L264.35 213.56 L264.40 213.62 L264.45 213.67 L264.50 213.72 L264.55 213.78 L264.60 213.83 L264.65 213.88 L264.70 213.93 L264.75 213.98 L264.80 214.03 L264.85 214.08 L264.90 214.13 L264.95 214.19 L265.00 214.24 L265.05 214.29 L265.10 214.33 L265.15 214.38 L265.20 214.43 L265.25 214.48 L265.30 214.53 L265.35 214.58 L265.40 214.63 L265.45 214.67 L265.50 214.72 L265.55 214.77 L265.60 214.82 L265.65 214.86 L265.70 214.91 L265.75 214.96 L265.80 215.00 L265.85 215.05 L265.90 215.09 L265.95 215.14 L266.00 215.18 L266.05 215.23 L266.10 215.27 L266.15 215.32 L266.20 215.36 L266.25 215.40 L266.30 215.45 L266.35 215.49 L266.40 215.53 L266.45 215.58 L266.50 215.62 L266.55 215.66 L266.60 215.70 L266.65 215.75 L266.70 215.79 L266.75 215.83 L266.80 215.87 L266.85 215.91 L266.90 215.95 L266.95 215.99 L267.00 216.03 L267.05 216.07 L267.10 216.11 L267.15 216.15 L267.20 216.19 L267.25 216.23 L267.30 216.27 L267.35 216.30 L267.40 216.34 L267.45 216.38 L267.50 216.42 L267.55 216.45 L267.60 216.49 L267.65 216.53 L267.70 216.57 L267.75 216.60 L267.80 216.64 L267.85 216.67 L267.90 216.71 L267.95 216.75 L268.00 216.78 L268.05 216.82 L268.10 216.85 L268.15 216.89 L268.20 216.92 L268.25 216.95 L268.30 216.99 L268.35 217.02 L268.40 217.06 L268.45 217.09 L268.50 217.12 L268.55 217.15 L268.60 217.19 L268.65 217.22 L268.70 217.25 L268.75 217.28 L268.80 217.32 L268.85 217.35 L268.90 217.38 L268.95 217.41 L269.00 217.44 L269.05 217.47 L269.10 217.50 L269.15 217.53 L269.20 217.56 L269.25 217.59 L269.30 217.62 L269.35 217.65 L269.40 217.68 L269.45 217.71 L269.50 217.74 L269.55 217.77 L269.60 217.80 L269.65 217.82 L269.70 217.85 L269.75 217.88 L269.80 217.91 L269.85 217.93 L269.90 217.96 L269.95 217.99 L270.00 218.02 L270.05 218.04 L270.10 218.07 L270.15 218.09 L270.20 218.12 L270.25 218.15 L270.30 218.17 L270.35 218.20 L270.40 218.22 L270.45 218.25 L270.50 218.27 L270.55 218.30 L270.60 218.32 L270.65 218.35 L270.70 218.37 L270.75 218.40 L270.80 218.42 L270.85 218.44 L270.90 218.47 L270.95 218.49 L271.00 218.51 L271.05 218.54 L271.10 218.56 L271.15 218.58 L271.20 218.60 L271.25 218.63 L271.30 218.65 L271.35 218.67 L271.40 218.69 L271.45 218.71 L271.50 218.74 L271.55 218.76 L271.60 218.78 L271.65 218.80 L271.70 218.82 L271.75 218.84 L271.80 218.86 L271.85 218.88 L271.90 218.90 L271.95 218.92 L272.00 218.94 L272.05 218.96 L272.10 218.98 L272.15 219.00 L272.20 219.02 L272.25 219.04 L272.30 219.06 L272.35 219.07 L272.40 219.09 L272.45 219.11 L272.50 219.13 L272.55 219.15 L272.60 219.17 L272.65 219.18 L272.70 219.20 L272.75 219.22 L272.80 219.24 L272.85 219.25 L272.90 219.27 L272.95 219.29 L273.00 219.30 L273.05 219.32 L273.10 219.34 L273.15 219.35 L273.20 219.37 L273.25 219.39 L273.30 219.40 L273.35 219.42 L273.40 219.43 L273.45 219.45 L273.50 219.46 L273.55 219.48 L273.60 219.49 L273.65 219.51 L273.70 219.52 L273.75 219.54 L273.80 219.55 L273.85 219.57 L273.90 219.58 L273.95 219.59 L274.00 219.61 L274.05 219.62 L274.10 219.63 L274.15 219.65 L274.20 219.66 L274.25 219.67 L274.30 219.69 L274.35 219.70 L274.40 219.71 L274.45 219.72 L274.50 219.74 L274.55 219.75 L274.60 219.76 L274.65 219.77 L274.70 219.79 L274.75 219.80 L274.80 219.81 L274.85 219.82 L274.90 219.83 L274.95 219.84 L275.00 219.85 L275.05 219.86 L275.10 219.87 L275.15 219.88 L275.20 219.90 L275.25 219.91 L275.30 219.92 L275.35 219.93 L275.40 219.94 L275.45 219.95 L275.50 219.95 L275.55 219.96 L275.60 219.97 L275.65 219.98 L275.70 219.99 L275.75 220.00 L275.80 220.01 L275.85 220.02 L275.90 220.03 L275.95 220.03 L276.00 220.04 L276.05 220.05 L276.10 220.06 L276.15 220.07 L276.20 220.07 L276.25 220.08 L276.30 220.09 L276.35 220.10 L276.40 220.10 L276.45 220.11 L276.50 220.12 L276.55 220.13 L276.60 220.13 L276.65 220.14 L276.70 220.15 L276.75 220.15 L276.80 220.16 L276.85 220.16 L276.90 220.17 L276.95 220.18 L277.00 220.18 L277.05 220.19 L277.10 220.19 L277.15 220.20 L277.20 220.20 L277.25 220.21 L277.30 220.21 L277.35 220.22 L277.40 220.22 L277.45 220.23 L277.50 220.23 L277.55 220.24 L277.60 220.24 L277.65 220.25 L277.70 220.25 L277.75 220.26 L277.80 220.26 L277.85 220.27 L277.90 220.27 L277.95 220.27 L278.00 220.28 L278.05 220.28 L278.10 220.28 L278.15 220.29 L278.20 220.29 L278.25 220.29 L278.30 220.30 L278.35 220.30 L278.40 220.30 L278.45 220.31 L278.50 220.31 L278.55 220.31 L278.60 220.32 L278.65 220.32 L278.70 220.32 L278.75 220.32 L278.80 220.33 L278.85 220.33 L278.90 220.33 L278.95 220.33 L279.00 220.34 L279.05 220.34 L279.10 220.34 L279.15 220.34 L279.20 220.35 L279.25 220.35 L279.30 220.35 L279.35 220.35 L279.40 220.35 L279.45 220.36 L279.50 220.36 L279.55 220.36 L279.60 220.36 L279.65 220.36 L279.70 220.36 L279.75 220.36 L279.80 220.36 L279.85 220.36 L279.90 220.36 L279.95 220.36 L280.00 220.37 L280.05 220.37 L280.10 220.37 L280.15 220.37 L280.20 220.37 L280.25 220.37 L280.30 220.37 L280.35 220.37 L280.40 220.37 L280.45 220.37 L280.50 220.37 L280.55 220.37 L280.60 220.37 L280.65 220.37 L280.70 220.37 L280.75 220.37 L280.80 220.37 L280.85 220.38 L280.90 220.38 L280.95 220.38 L281.00 220.38 L281.05 220.38 L281.10 220.38 L281.15 220.38 L281.20 220.38 L281.25 220.38 L281.30 220.38 L281.35 220.38 L281.40 220.38 L281.45 220.38 L281.50 220.38 L281.55 220.38 L281.60 220.38 L281.65 220.38 L281.70 220.38 L281.75 220.38 L281.80 220.38 L281.85 220.38 L281.90 220.38 L281.95 220.38 L282.00 220.38 L282.05 220.38 L282.10 220.38 L282.15 220.38 L282.20 220.38 L282.25 220.38 L282.30 220.38 L282.35 220.38 L282.40 220.38 L282.45 220.39 L282.50 220.39 L282.55 220.39 L282.60 220.39 L282.65 220.39 L282.70 220.39 L282.75 220.39 L282.80 220.39 L282.85 220.39 L282.90 220.39 L282.95 220.39 L283.00 220.39 L283.05 220.39 L283.10 220.39 L283.15 220.39 L283.20 220.39 L283.25 220.39 L283.30 220.39 L283.35 220.39 L283.40 220.39 L283.45 220.39 L283.50 220.39 L283.55 220.39 L283.60 220.39 L283.65 220.39 L283.70 220.39 L283.75 220.39 L283.80 220.39 L283.85 220.39 L283.90 220.39 L283.95 220.39 L284.00 220.39 L284.05 220.39 L284.10 220.39 L284.15 220.39 L284.20 220.39 L284.25 220.39 L284.30 220.39 L284.35 220.39 L284.40 220.39 L284.45 220.39 L284.50 220.39 L284.55 220.39 L284.60 220.39 L284.65 220.39 L284.70 220.39 L284.75 220.39 L284.80 220.39 L284.85 220.39 L284.90 220.39 L284.95 220.39 L285.00 220.39 L285.05 220.39 L285.10 220.39 L285.15 220.39 L285.20 220.39 L285.25 220.39 L285.30 220.39 L285.35 220.39 L285.40 220.39 L285.45 220.39 L285.50 220.39 L285.55 220.39 L285.60 220.39 L285.65 220.39 L285.70 220.39 L285.75 220.39 L285.80 220.39 L285.85 220.39 L285.90 220.39 L285.95 220.39 L286.00 220.39 L286.05 220.39 L286.10 220.39 L286.15 220.39 L286.20 220.39 L286.25 220.39 L286.30 220.39 L286.35 220.39 L286.40 220.39 L286.45 220.39 L286.50 220.39 L286.55 220.39 L286.60 220.39 L286.65 220.39 L286.70 220.39 L286.75 220.39 L286.80 220.39 L286.85 220.39 L286.90 220.39 L286.95 220.39 L287.00 220.39 L287.05 220.39 L287.10 220.39 L287.15 220.39 L287.20 220.39 L287.25 220.39 L287.30 220.39 L287.35 220.39 L287.40 220.39 L287.45 220.39 L287.50 220.39 L287.55 220.39 L287.60 220.39 L287.65 220.39 L287.70 220.39 L287.75 220.39 L287.80 220.39 L287.85 220.39 L287.90 220.39 L287.95 220.39 L288.00 220.39 L288.05 220.39 L288.10 220.39 L288.15 220.39 L288.20 220.39 L288.25 220.39 L288.30 220.39 L288.35 220.39 L288.40 220.39 L288.45 220.39 L288.50 220.39 L288.55 220.39 L288.60 220.39 L288.65 220.39 L288.70 220.39 L288.75 220.39 L288.80 220.39 L288.85 220.39 L288.90 220.39 L288.95 220.39 L289.00 220.39 L289.05 220.39 L289.10 220.39 L289.15 220.39 L289.20 220.39 L289.25 220.39 L289.30 220.39 L289.35 220.39 L289.40 220.39 L289.45 220.39 L289.50 220.39 L289.55 220.39 L289.60 220.39 L289.65 220.39 L289.70 220.39 L289.75 220.39 L289.80 220.39 L289.85 220.39 L289.90 220.39 L289.95 220.39 L290.00 220.39 L291.00 220.39 L292.00 220.39 L293.00 220.39 L294.00 220.39 L295.00 220.39 L296.00 220.39 L297.00 220.39 L298.00 220.39 L299.00 220.39 L300.00 220.39 L301.00 220.39 L302.00 220.39 L303.00 220.39 L304.00 220.39 L305.00 220.39 L306.00 220.39 L307.00 220.39 L308.00 220.39 L309.00 220.39 L310.00 220.39 L311.00 220.39 L312.00 220.39 L313.00 220.39 L314.00 220.39 L315.00 220.39 L316.00 220.39 L317.00 220.39 L318.00 220.39 L319.00 220.39 L320.00 220.39 L321.00 220.39 L322.00 220.39 L323.00 220.39 L324.00 220.39 L325.00 220.39 L326.00 220.39 L327.00 220.39 L328.00 220.39 L329.00 220.39 L330.00 220.39 L331.00 220.39 L332.00 220.39 L333.00 220.39 L334.00 220.39 L335.00 220.39 L336.00 220.39 L337.00 220.39 L338.00 220.39 L339.00 220.39 L340.00 220.39 L341.00 220.39 L342.00 220.39 L343.00 220.39 L344.00 220.39 L345.00 220.39 L346.00 220.39 L347.00 220.39 L348.00 220.39 L349.00 220.39 L350.00 220.39 L351.00 220.39 L352.00 220.39 L353.00 220.39 L354.00 220.39 L355.00 220.39 L356.00 220.39 L357.00 220.39 L358.00 220.39 L359.00 220.39 L360.00 220.39 L361.00 220.39 L362.00 220.39 L363.00 220.39 L364.00 220.39 L365.00 220.39 L366.00 220.39 L367.00 220.39 L368.00 220.39 L369.00 220.39 L370.00 220.39 L371.00 220.39 L372.00 220.39 L373.00 220.39 L374.00 220.39 L375.00 220.39 L376.00 220.39 L377.00 220.39 L378.00 220.39 L379.00 220.39 L380.00 220.39 L381.00 220.39 L382.00 220.39 L383.00 220.39 L384.00 220.39 L385.00 220.39 L386.00 220.39 L387.00 220.39 L388.00 220.39 L389.00 220.39 L390.00 220.39 L391.00 220.39 L392.00 220.39 L393.00 220.39 L394.00 220.39 L395.00 220.39 L396.00 220.39 L397.00 220.39 L398.00 220.39 L399.00 220.39 L400.00 220.39 L401.00 220.39 L402.00 220.39 L403.00 220.39 L404.00 220.39 L405.00 220.39 L406.00 220.39 L407.00 220.39 L408.00 220.39 L409.00 220.39 L410.00 220.39 L411.00 220.39 L412.00 220.39 L413.00 220.39 L414.00 220.39 L415.00 220.39 L416.00 220.39 L417.00 220.39 L418.00 220.39 L419.00 220.39 L420.00 220.39 L421.00 220.39 L422.00 220.39 L423.00 220.39 L424.00 220.39 L425.00 220.39 L426.00 220.39 L427.00 220.39 L428.00 220.39 L429.00 220.39 L430.00 220.39 L431.00 220.39 L432.00 220.39 L433.00 220.39 L434.00 220.39 L435.00 220.39 L436.00 220.39 L437.00 220.39 L438.00 220.39 L439.00 220.39 L440.00 220.39 L441.00 220.39 L442.00 220.39 L443.00 220.39 L444.00 220.39 L445.00 220.39 L446.00 220.39 L447.00 220.39 L448.00 220.39 L449.00 220.39 L450.00 220.39 L451.00 220.39 L452.00 220.39 L453.00 220.39 L454.00 220.39 L455.00 220.39 L456.00 220.39 L457.00 220.39" fill="none" stroke="#ffa500" stroke-width="1.75" stroke-linejoin="round" stroke-dasharray="6.67 4 1.5 4 6.67 4"/>
<path d="M55.80 51.72 L56.30 51.78 L56.80 51.85 L57.30 51.91 L57.80 51.98 L58.30 52.04 L58.80 52.10 L59.30 52.17 L59.80 52.23 L60.30 52.29 L60.80 52.36 L61.30 52.42 L61.80 52.48 L62.30 52.54 L62.80 52.60 L63.30 52.66 L63.80 52.72 L64.30 52.78 L64.80 52.84 L65.30 52.90 L65.80 52.96 L66.30 53.02 L66.80 53.08 L67.30 53.14 L67.80 53.20 L68.30 53.26 L68.80 53.31 L69.30 53.37 L69.80 53.43 L70.30 53.49 L70.80 53.55 L71.30 53.60 L71.80 53.66 L72.30 53.72 L72.80 53.78 L73.30 53.83 L73.80 53.89 L74.30 53.95 L74.80 54.00 L75.30 54.06 L75.80 54.12 L76.30 54.18 L76.80 54.23 L77.30 54.29 L77.80 54.35 L78.30 54.40 L78.80 54.46 L79.30 54.52 L79.80 54.57 L80.30 54.63 L80.80 54.69 L81.30 54.75 L81.80 54.80 L82.30 54.86 L82.80 54.92 L83.30 54.98 L83.80 55.03 L84.30 55.09 L84.80 55.15 L85.30 55.21 L85.80 55.27 L86.30 55.33 L86.80 55.39 L87.30 55.45 L87.80 55.50 L88.30 55.56 L88.80 55.62 L89.30 55.68 L89.80 55.74 L90.30 55.81 L90.80 55.87 L91.30 55.93 L91.80 55.99 L92.30 56.05 L92.80 56.11 L93.30 56.18 L93.80 56.24 L94.30 56.30 L94.80 56.37 L95.30 56.43 L95.80 56.49 L96.30 56.56 L96.80 56.62 L97.30 56.69 L97.80 56.75 L98.30 56.82 L98.80 56.89 L99.30 56.95 L99.80 57.02 L100.30 57.09 L100.80 57.16 L101.30 57.23 L101.80 57.30 L102.30 57.37 L102.80 57.44 L103.30 57.51 L103.80 57.58 L104.30 57.65 L104.80 57.72 L105.30 57.80 L105.80 57.87 L106.30 57.94 L106.80 58.02 L107.30 58.09 L107.80 58.17 L108.30 58.25 L108.80 58.32 L109.30 58.40 L109.80 58.48 L110.30 58.56 L110.80 58.64 L111.30 58.72 L111.80 58.80 L112.30 58.88 L112.80 58.96 L113.30 59.05 L113.80 59.13 L114.30 59.21 L114.80 59.30 L115.30 59.39 L115.80 59.47 L116.30 59.56 L116.80 59.65 L117.30 59.74 L117.80 59.82 L118.30 59.92 L118.80 60.01 L119.30 60.10 L119.80 60.19 L120.30 60.28 L120.80 60.38 L121.30 60.47 L121.80 60.57 L122.30 60.67 L122.80 60.76 L123.30 60.86 L123.80 60.96 L124.30 61.06 L124.80 61.16 L125.30 61.26 L125.80 61.37 L126.30 61.47 L126.80 61.57 L127.30 61.68 L127.80 61.79 L128.30 61.89 L128.80 62.00 L129.30 62.11 L129.80 62.22 L130.30 62.33 L130.80 62.44 L131.30 62.56 L131.80 62.67 L132.30 62.78 L132.80 62.90 L133.30 63.02 L133.80 63.13 L134.30 63.25 L134.80 63.37 L135.30 63.49 L135.80 63.62 L136.30 63.74 L136.80 63.86 L137.30 63.99 L137.80 64.12 L138.30 64.24 L138.80 64.37 L139.30 64.50 L139.80 64.63 L140.30 64.76 L140.80 64.90 L141.30 65.03 L141.80 65.16 L142.30 65.30 L142.80 65.44 L143.30 65.58 L143.80 65.72 L144.30 65.86 L144.80 66.00 L145.30 66.14 L145.80 66.28 L146.30 66.43 L146.80 66.58 L147.30 66.72 L147.80 66.87 L148.30 67.02 L148.80 67.18 L149.30 67.33 L149.80 67.48 L150.30 67.64 L150.80 67.79 L151.30 67.95 L151.80 68.11 L152.30 68.27 L152.80 68.43 L153.30 68.59 L153.80 68.76 L154.30 68.92 L154.80 69.09 L155.30 69.26 L155.80 69.43 L156.30 69.60 L156.80 69.77 L157.30 69.94 L157.80 70.12 L158.30 70.30 L158.80 70.47 L159.30 70.65 L159.80 70.84 L160.30 71.02 L160.80 71.20 L161.30 71.39 L161.80 71.58 L162.30 71.77 L162.80 71.96 L163.30 72.15 L163.80 72.35 L164.30 72.54 L164.80 72.74 L165.30 72.94 L165.80 73.15 L166.30 73.35 L166.80 73.56 L167.30 73.77 L167.80 73.98 L168.30 74.19 L168.80 74.41 L169.30 74.63 L169.80 74.85 L170.30 75.07 L170.80 75.30 L171.30 75.52 L171.80 75.76 L172.30 75.99 L172.80 76.23 L173.30 76.46 L173.80 76.71 L174.30 76.95 L174.80 77.20 L175.30 77.45 L175.80 77.71 L176.30 77.96 L176.80 78.22 L177.30 78.49 L177.80 78.76 L178.30 79.03 L178.80 79.30 L179.30 79.58 L179.80 79.86 L180.30 80.15 L180.80 80.43 L181.30 80.73 L181.80 81.02 L182.30 81.32 L182.80 81.63 L183.30 81.93 L183.80 82.25 L184.30 82.56 L184.80 82.88 L185.30 83.20 L185.80 83.53 L186.30 83.86 L186.80 84.20 L187.30 84.54 L187.80 84.88 L188.30 85.22 L188.80 85.57 L189.30 85.93 L189.80 86.29 L190.30 86.65 L190.80 87.01 L191.30 87.38 L191.80 87.76 L192.30 88.13 L192.80 88.52 L193.30 88.90 L193.80 89.29 L194.30 89.68 L194.80 90.07 L195.30 90.47 L195.80 90.87 L196.30 91.28 L196.80 91.69 L197.30 92.10 L197.80 92.52 L198.30 92.93 L198.80 93.36 L199.30 93.78 L199.80 94.21 L200.30 94.64 L200.80 95.07 L201.30 95.51 L201.80 95.95 L202.30 96.39 L202.80 96.84 L203.30 97.29 L203.80 97.74 L204.30 98.19 L204.80 98.65 L205.30 99.11 L205.80 99.58 L206.30 100.05 L206.80 100.52 L207.30 101.00 L207.80 101.48 L208.30 101.97 L208.80 102.46 L209.30 102.95 L209.80 103.45 L210.30 103.96 L210.80 104.46 L211.30 104.98 L211.80 105.50 L212.30 106.03 L212.80 106.56 L213.30 107.10 L213.80 107.65 L214.30 108.20 L214.80 108.76 L215.30 109.33 L215.80 109.90 L216.30 110.49 L216.80 111.08 L217.30 111.68 L217.80 112.28 L218.30 112.90 L218.80 113.52 L219.30 114.15 L219.80 114.79 L220.30 115.43 L220.80 116.09 L221.30 116.75 L221.80 117.42 L222.30 118.09 L222.80 118.78 L223.30 119.47 L223.80 120.16 L224.30 120.87 L224.80 121.58 L225.30 122.30 L225.80 123.03 L226.30 123.76 L226.80 124.50 L227.30 125.25 L227.80 126.00 L228.30 126.76 L228.80 127.52 L229.30 128.30 L229.80 129.08 L230.30 129.86 L230.80 130.65 L231.30 131.45 L231.80 132.26 L232.30 133.07 L232.80 133.88 L233.30 134.71 L233.80 135.54 L234.30 136.37 L234.80 137.21 L235.30 138.06 L235.80 138.91 L236.30 139.77 L236.80 140.64 L237.30 141.51 L237.80 142.39 L238.30 143.27 L238.80 144.16 L239.30 145.05 L239.80 145.95 L240.30 146.86 L240.80 147.77 L241.30 148.69 L241.80 149.61 L242.30 150.55 L242.80 151.48 L243.30 152.42 L243.80 153.37 L244.30 154.33 L244.80 155.29 L245.30 156.25 L245.80 157.23 L246.30 158.20 L246.80 159.19 L247.30 160.18 L247.80 161.18 L248.30 162.18 L248.80 163.19 L249.30 164.21 L249.80 165.23 L250.00 165.64 L250.05 165.75 L250.10 165.85 L250.15 165.95 L250.20 166.06 L250.25 166.16 L250.30 166.26 L250.35 166.37 L250.40 166.47 L250.45 166.57 L250.50 166.68 L250.55 166.78 L250.60 166.89 L250.65 166.99 L250.70 167.09 L250.75 167.20 L250.80 167.30 L250.85 167.41 L250.90 167.51 L250.95 167.61 L251.00 167.72 L251.05 167.82 L251.10 167.93 L251.15 168.03 L251.20 168.14 L251.25 168.24 L251.30 168.35 L251.35 168.45 L251.40 168.56 L251.45 168.66 L251.50 168.77 L251.55 168.87 L251.60 168.98 L251.65 169.08 L251.70 169.19 L251.75 169.29 L251.80 169.40 L251.85 169.50 L251.90 169.61 L251.95 169.72 L252.00 169.82 L252.05 169.93 L252.10 170.03 L252.15 170.14 L252.20 170.25 L252.25 170.35 L252.30 170.46 L252.35 170.56 L252.40 170.67 L252.45 170.78 L252.50 170.88 L252.55 170.99 L252.60 171.10 L252.65 171.20 L252.70 171.31 L252.75 171.42 L252.80 171.52 L252.85 171.63 L252.90 171.74 L252.95 171.85 L253.00 171.95 L253.05 172.06 L253.10 172.17 L253.15 172.28 L253.20 172.38 L253.25 172.49 L253.30 172.60 L253.35 172.71 L253.40 172.81 L253.45 172.92 L253.50 173.03 L253.55 173.14 L253.60 173.25 L253.65 173.36 L253.70 173.46 L253.75 173.57 L253.80 173.68 L253.85 173.79 L253.90 173.90 L253.95 174.01 L254.00 174.12 L254.05 174.23 L254.10 174.33 L254.15 174.44 L254.20 174.55 L254.25 174.66 L254.30 174.77 L254.35 174.88 L254.40 174.99 L254.45 175.10 L254.50 175.21 L254.55 175.32 L254.60 175.43 L254.65 175.54 L254.70 175.65 L254.75 175.76 L254.80 175.87 L254.85 175.98 L254.90 176.09 L254.95 176.20 L255.00 176.31 L255.05 176.42 L255.10 176.53 L255.15 176.64 L255.20 176.76 L255.25 176.87 L255.30 176.98 L255.35 177.09 L255.40 177.20 L255.45 177.31 L255.50 177.42 L255.55 177.53 L255.60 177.65 L255.65 177.76 L255.70 177.87 L255.75 177.98 L255.80 178.09 L255.85 178.21 L255.90 178.32 L255.95 178.43 L256.00 178.54 L256.05 178.65 L256.10 178.76 L256.15 178.88 L256.20 178.99 L256.25 179.10 L256.30 179.21 L256.35 179.32 L256.40 179.43 L256.45 179.54 L256.50 179.66 L256.55 179.77 L256.60 179.88 L256.65 179.99 L256.70 180.10 L256.75 180.22 L256.80 180.33 L256.85 180.44 L256.90 180.55 L256.95 180.67 L257.00 180.78 L257.05 180.89 L257.10 181.00 L257.15 181.12 L257.20 181.23 L257.25 181.34 L257.30 181.46 L257.35 181.57 L257.40 181.69 L257.45 181.80 L257.50 181.91 L257.55 182.03 L257.60 182.14 L257.65 182.26 L257.70 182.37 L257.75 182.49 L257.80 182.60 L257.85 182.72 L257.90 182.83 L257.95 182.95 L258.00 183.06 L258.05 183.18 L258.10 183.29 L258.15 183.41 L258.20 183.52 L258.25 183.64 L258.30 183.76 L258.35 183.87 L258.40 183.99 L258.45 184.10 L258.50 184.22 L258.55 184.34 L258.60 184.45 L258.65 184.57 L258.70 184.69 L258.75 184.81 L258.80 184.92 L258.85 185.04 L258.90 185.16 L258.95 185.28 L259.00 185.39 L259.05 185.51 L259.10 185.63 L259.15 185.75 L259.20 185.87 L259.25 185.99 L259.30 186.10 L259.35 186.22 L259.40 186.34 L259.45 186.46 L259.50 186.58 L259.55 186.70 L259.60 186.82 L259.65 186.94 L259.70 187.06 L259.75 187.18 L259.80 187.30 L259.85 187.42 L259.90 187.54 L259.95 187.66 L260.00 187.78 L260.05 187.90 L260.10 188.03 L260.15 188.15 L260.20 188.27 L260.25 188.39 L260.30 188.51 L260.35 188.63 L260.40 188.76 L260.45 188.88 L260.50 189.00 L260.55 189.12 L260.60 189.25 L260.65 189.37 L260.70 189.49 L260.75 189.62 L260.80 189.74 L260.85 189.86 L260.90 189.99 L260.95 190.11 L261.00 190.24 L261.05 190.36 L261.10 190.49 L261.15 190.61 L261.20 190.74 L261.25 190.86 L261.30 190.99 L261.35 191.11 L261.40 191.24 L261.45 191.36 L261.50 191.49 L261.55 191.62 L261.60 191.74 L261.65 191.87 L261.70 192.00 L261.75 192.12 L261.80 192.25 L261.85 192.38 L261.90 192.51 L261.95 192.64 L262.00 192.76 L262.05 192.89 L262.10 193.02 L262.15 193.15 L262.20 193.28 L262.25 193.41 L262.30 193.54 L262.35 193.67 L262.40 193.80 L262.45 193.93 L262.50 194.06 L262.55 194.19 L262.60 194.32 L262.65 194.45 L262.70 194.58 L262.75 194.72 L262.80 194.85 L262.85 194.98 L262.90 195.11 L262.95 195.24 L263.00 195.38 L263.05 195.51 L263.10 195.64 L263.15 195.78 L263.20 195.91 L263.25 196.05 L263.30 196.18 L263.35 196.32 L263.40 196.45 L263.45 196.59 L263.50 196.72 L263.55 196.86 L263.60 196.99 L263.65 197.13 L263.70 197.27 L263.75 197.40 L263.80 197.54 L263.85 197.68 L263.90 197.82 L263.95 197.96 L264.00 198.09 L264.05 198.23 L264.10 198.37 L264.15 198.51 L264.20 198.65 L264.25 198.79 L264.30 198.93 L264.35 199.07 L264.40 199.21 L264.45 199.36 L264.50 199.50 L264.55 199.64 L264.60 199.78 L264.65 199.93 L264.70 200.07 L264.75 200.21 L264.80 200.36 L264.85 200.50 L264.90 200.65 L264.95 200.79 L265.00 200.94 L265.05 201.08 L265.10 201.23 L265.15 201.38 L265.20 201.52 L265.25 201.67 L265.30 201.82 L265.35 201.97 L265.40 202.12 L265.45 202.26 L265.50 202.41 L265.55 202.56 L265.60 202.72 L265.65 202.87 L265.70 203.02 L265.75 203.17 L265.80 203.32 L265.85 203.48 L265.90 203.63 L265.95 203.78 L266.00 203.94 L266.05 204.09 L266.10 204.25 L266.15 204.40 L266.20 204.56 L266.25 204.72 L266.30 204.87 L266.35 205.03 L266.40 205.19 L266.45 205.35 L266.50 205.51 L266.55 205.67 L266.60 205.83 L266.65 205.99 L266.70 206.15 L266.75 206.32 L266.80 206.48 L266.85 206.64 L266.90 206.81 L266.95 206.97 L267.00 207.14 L267.05 207.30 L267.10 207.47 L267.15 207.64 L267.20 207.81 L267.25 207.98 L267.30 208.15 L267.35 208.32 L267.40 208.49 L267.45 208.66 L267.50 208.83 L267.55 209.01 L267.60 209.18 L267.65 209.36 L267.70 209.53 L267.75 209.71 L267.80 209.89 L267.85 210.07 L267.90 210.25 L267.95 210.43 L268.00 210.61 L268.05 210.79 L268.10 210.97 L268.15 211.16 L268.20 211.34 L268.25 211.53 L268.30 211.72 L268.35 211.90 L268.40 212.09 L268.45 212.28 L268.50 212.48 L268.55 212.67 L268.60 212.86 L268.65 213.06 L268.70 213.25 L268.75 213.45 L268.80 213.65 L268.85 213.85 L268.90 214.05 L268.95 214.26 L269.00 214.46 L269.05 214.67 L269.10 214.87 L269.15 215.08 L269.20 215.29 L269.25 215.50 L269.30 215.72 L269.35 215.93 L269.40 216.15 L269.45 216.37 L269.50 216.59 L269.55 216.81 L269.60 217.03 L269.65 217.26 L269.70 217.49 L269.75 217.71 L269.80 217.95 L269.85 218.18 L269.90 218.42 L269.95 218.65 L270.00 218.89 L270.05 219.14 L270.10 219.38 L270.15 219.63 L270.20 219.88 L270.25 220.13 L270.30 220.39 L270.35 220.65 L270.40 220.91 L270.45 221.17 L270.50 221.44 L270.55 221.71 L270.60 221.99 L270.65 222.26 L270.70 222.54 L270.75 222.83 L270.80 223.12 L270.85 223.41 L270.90 223.71 L270.95 224.01 L271.00 224.31 L271.05 224.62 L271.10 224.94 L271.15 225.26 L271.20 225.58 L271.25 225.92 L271.30 226.25 L271.35 226.59 L271.40 226.94 L271.45 227.30 L271.50 227.66 L271.55 228.03 L271.60 228.41 L271.65 228.79 L271.70 229.19 L271.75 229.59 L271.80 230.00 L271.85 230.42 L271.90 230.86 L271.95 231.30 L272.00 231.76 L272.05 232.22 L272.10 232.71 L272.15 233.20 L272.35 312.00 L274.65 312.00 L274.85 237.54 L274.90 237.22 L274.95 236.91 L275.00 236.61 L275.05 236.33 L275.10 236.06 L275.15 235.80 L275.20 235.55 L275.25 235.31 L275.30 235.08 L275.35 234.86 L275.40 234.64 L275.45 234.44 L275.50 234.24 L275.55 234.05 L275.60 233.86 L275.65 233.68 L275.70 233.51 L275.75 233.34 L275.80 233.18 L275.85 233.03 L275.90 232.88 L275.95 232.73 L276.00 232.59 L276.05 232.46 L276.10 232.33 L276.15 232.20 L276.20 232.08 L276.25 231.96 L276.30 231.84 L276.35 231.73 L276.40 231.62 L276.45 231.52 L276.50 231.41 L276.55 231.32 L276.60 231.22 L276.65 231.13 L276.70 231.04 L276.75 230.95 L276.80 230.87 L276.85 230.78 L276.90 230.70 L276.95 230.63 L277.00 230.55 L277.05 230.48 L277.10 230.41 L277.15 230.34 L277.20 230.27 L277.25 230.21 L277.30 230.15 L277.35 230.09 L277.40 230.03 L277.45 229.97 L277.50 229.92 L277.55 229.86 L277.60 229.81 L277.65 229.76 L277.70 229.71 L277.75 229.66 L277.80 229.62 L277.85 229.57 L277.90 229.53 L277.95 229.49 L278.00 229.44 L278.05 229.40 L278.10 229.37 L278.15 229.33 L278.20 229.29 L278.25 229.26 L278.30 229.22 L278.35 229.19 L278.40 229.16 L278.45 229.13 L278.50 229.10 L278.55 229.07 L278.60 229.04 L278.65 229.01 L278.70 228.98 L278.75 228.96 L278.80 228.93 L278.85 228.91 L278.90 228.88 L278.95 228.86 L279.00 228.83 L279.05 228.81 L279.10 228.79 L279.15 228.76 L279.20 228.74 L279.25 228.72 L279.30 228.70 L279.35 228.68 L279.40 228.66 L279.45 228.65 L279.50 228.63 L279.55 228.61 L279.60 228.59 L279.65 228.58 L279.70 228.56 L279.75 228.55 L279.80 228.53 L279.85 228.52 L279.90 228.50 L279.95 228.49 L280.00 228.48 L280.05 228.47 L280.10 228.45 L280.15 228.44 L280.20 228.43 L280.25 228.42 L280.30 228.41 L280.35 228.40 L280.40 228.39 L280.45 228.38 L280.50 228.37 L280.55 228.36 L280.60 228.35 L280.65 228.34 L280.70 228.33 L280.75 228.32 L280.80 228.32 L280.85 228.31 L280.90 228.30 L280.95 228.29 L281.00 228.29 L281.05 228.28 L281.10 228.27 L281.15 228.27 L281.20 228.26 L281.25 228.25 L281.30 228.25 L281.35 228.24 L281.40 228.24 L281.45 228.23 L281.50 228.23 L281.55 228.22 L281.60 228.22 L281.65 228.21 L281.70 228.21 L281.75 228.20 L281.80 228.20 L281.85 228.19 L281.90 228.19 L281.95 228.19 L282.00 228.18 L282.05 228.18 L282.10 228.18 L282.15 228.17 L282.20 228.17 L282.25 228.17 L282.30 228.16 L282.35 228.16 L282.40 228.16 L282.45 228.15 L282.50 228.15 L282.55 228.15 L282.60 228.14 L282.65 228.14 L282.70 228.14 L282.75 228.14 L282.80 228.14 L282.85 228.13 L282.90 228.13 L282.95 228.13 L283.00 228.13 L283.05 228.12 L283.10 228.12 L283.15 228.12 L283.20 228.12 L283.25 228.12 L283.30 228.12 L283.35 228.11 L283.40 228.11 L283.45 228.11 L283.50 228.11 L283.55 228.11 L283.60 228.11 L283.65 228.11 L283.70 228.10 L283.75 228.10 L283.80 228.10 L283.85 228.10 L283.90 228.10 L283.95 228.10 L284.00 228.10 L284.05 228.10 L284.10 228.09 L284.15 228.09 L284.20 228.09 L284.25 228.09 L284.30 228.09 L284.35 228.09 L284.40 228.09 L284.45 228.09 L284.50 228.09 L284.55 228.09 L284.60 228.09 L284.65 228.09 L284.70 228.08 L284.75 228.08 L284.80 228.08 L284.85 228.08 L284.90 228.08 L284.95 228.08 L285.00 228.08 L285.05 228.08 L285.10 228.08 L285.15 228.08 L285.20 228.08 L285.25 228.08 L285.30 228.08 L285.35 228.08 L285.40 228.08 L285.45 228.08 L285.50 228.08 L285.55 228.08 L285.60 228.07 L285.65 228.07 L285.70 228.07 L285.75 228.07 L285.80 228.07 L285.85 228.07 L285.90 228.07 L285.95 228.07 L286.00 228.07 L286.05 228.07 L286.10 228.07 L286.15 228.07 L286.20 228.07 L286.25 228.07 L286.30 228.07 L286.35 228.07 L286.40 228.07 L286.45 228.07 L286.50 228.07 L286.55 228.07 L286.60 228.07 L286.65 228.07 L286.70 228.07 L286.75 228.07 L286.80 228.07 L286.85 228.07 L286.90 228.07 L286.95 228.07 L287.00 228.07 L287.05 228.07 L287.10 228.07 L287.15 228.07 L287.20 228.07 L287.25 228.07 L287.30 228.07 L287.35 228.07 L287.40 228.07 L287.45 228.07 L287.50 228.07 L287.55 228.07 L287.60 228.07 L287.65 228.07 L287.70 228.07 L287.75 228.07 L287.80 228.07 L287.85 228.07 L287.90 228.07 L287.95 228.07 L288.00 228.07 L288.05 228.06 L288.10 228.06 L288.15 228.06 L288.20 228.06 L288.25 228.06 L288.30 228.06 L288.35 228.06 L288.40 228.06 L288.45 228.06 L288.50 228.06 L288.55 228.06 L288.60 228.06 L288.65 228.06 L288.70 228.06 L288.75 228.06 L288.80 228.06 L288.85 228.06 L288.90 228.06 L288.95 228.06 L289.00 228.06 L289.05 228.06 L289.10 228.06 L289.15 228.06 L289.20 228.06 L289.25 228.06 L289.30 228.06 L289.35 228.06 L289.40 228.06 L289.45 228.06 L289.50 228.06 L289.55 228.06 L289.60 228.06 L289.65 228.06 L289.70 228.06 L289.75 228.06 L289.80 228.06 L289.85 228.06 L289.90 228.06 L289.95 228.06 L290.00 228.06 L291.00 228.06 L292.00 228.06 L293.00 228.06 L294.00 228.06 L295.00 228.06 L296.00 228.06 L297.00 228.06 L298.00 228.06 L299.00 228.06 L300.00 228.06 L301.00 228.06 L302.00 228.06 L303.00 228.06 L304.00 228.06 L305.00 228.06 L306.00 228.06 L307.00 228.06 L308.00 228.06 L309.00 228.06 L310.00 228.06 L311.00 228.06 L312.00 228.06 L313.00 228.06 L314.00 228.06 L315.00 228.06 L316.00 228.06 L317.00 228.06 L318.00 228.06 L319.00 228.06 L320.00 228.06 L321.00 228.06 L322.00 228.06 L323.00 228.06 L324.00 228.06 L325.00 228.06 L326.00 228.06 L327.00 228.06 L328.00 228.06 L329.00 228.06 L330.00 228.06 L331.00 228.06 L332.00 228.06 L333.00 228.06 L334.00 228.06 L335.00 228.06 L336.00 228.06 L337.00 228.06 L338.00 228.06 L339.00 228.06 L340.00 228.06 L341.00 228.06 L342.00 228.06 L343.00 228.06 L344.00 228.06 L345.00 228.06 L346.00 228.06 L347.00 228.06 L348.00 228.06 L349.00 228.06 L350.00 228.06 L351.00 228.06 L352.00 228.06 L353.00 228.06 L354.00 228.06 L355.00 228.06 L356.00 228.06 L357.00 228.06 L358.00 228.06 L359.00 228.06 L360.00 228.06 L361.00 228.06 L362.00 228.06 L363.00 228.06 L364.00 228.06 L365.00 228.06 L366.00 228.06 L367.00 228.06 L368.00 228.06 L369.00 228.06 L370.00 228.06 L371.00 228.06 L372.00 228.06 L373.00 228.06 L374.00 228.06 L375.00 228.06 L376.00 228.06 L377.00 228.06 L378.00 228.06 L379.00 228.06 L380.00 228.06 L381.00 228.06 L382.00 228.06 L383.00 228.06 L384.00 228.06 L385.00 228.06 L386.00 228.06 L387.00 228.06 L388.00 228.06 L389.00 228.06 L390.00 228.06 L391.00 228.06 L392.00 228.06 L393.00 228.06 L394.00 228.06 L395.00 228.06 L396.00 228.06 L397.00 228.06 L398.00 228.06 L399.00 228.06 L400.00 228.06 L401.00 228.06 L402.00 228.06 L403.00 228.06 L404.00 228.06 L405.00 228.06 L406.00 228.06 L407.00 228.06 L408.00 228.06 L409.00 228.06 L410.00 228.06 L411.00 228.06 L412.00 228.06 L413.00 228.06 L414.00 228.06 L415.00 228.06 L416.00 228.06 L417.00 228.06 L418.00 228.06 L419.00 228.06 L420.00 228.06 L421.00 228.06 L422.00 228.06 L423.00 228.06 L424.00 228.06 L425.00 228.06 L426.00 228.06 L427.00 228.06 L428.00 228.06 L429.00 228.06 L430.00 228.06 L431.00 228.06 L432.00 228.06 L433.00 228.06 L434.00 228.06 L435.00 228.06 L436.00 228.06 L437.00 228.06 L438.00 228.06 L439.00 228.06 L440.00 228.06 L441.00 228.06 L442.00 228.06 L443.00 228.06 L444.00 228.06 L445.00 228.06 L446.00 228.06 L447.00 228.06 L448.00 228.06 L449.00 228.06 L450.00 228.06 L451.00 228.06 L452.00 228.06 L453.00 228.06 L454.00 228.06 L455.00 228.06 L456.00 228.06 L457.00 228.06" fill="none" stroke="#0000ff" stroke-width="1.75" stroke-linejoin="round" stroke-dasharray="1.33 4 6.67 4"/>
<path d="M55.80 51.72 L56.30 51.78 L56.80 51.85 L57.30 51.91 L57.80 51.98 L58.30 52.04 L58.80 52.10 L59.30 52.17 L59.80 52.23 L60.30 52.29 L60.80 52.36 L61.30 52.42 L61.80 52.48 L62.30 52.54 L62.80 52.60 L63.30 52.66 L63.80 52.72 L64.30 52.78 L64.80 52.84 L65.30 52.90 L65.80 52.96 L66.30 53.02 L66.80 53.08 L67.30 53.14 L67.80 53.20 L68.30 53.26 L68.80 53.31 L69.30 53.37 L69.80 53.43 L70.30 53.49 L70.80 53.55 L71.30 53.60 L71.80 53.66 L72.30 53.72 L72.80 53.78 L73.30 53.83 L73.80 53.89 L74.30 53.95 L74.80 54.00 L75.30 54.06 L75.80 54.12 L76.30 54.18 L76.80 54.23 L77.30 54.29 L77.80 54.35 L78.30 54.40 L78.80 54.46 L79.30 54.52 L79.80 54.57 L80.30 54.63 L80.80 54.69 L81.30 54.75 L81.80 54.80 L82.30 54.86 L82.80 54.92 L83.30 54.98 L83.80 55.03 L84.30 55.09 L84.80 55.15 L85.30 55.21 L85.80 55.27 L86.30 55.33 L86.80 55.39 L87.30 55.45 L87.80 55.50 L88.30 55.56 L88.80 55.62 L89.30 55.68 L89.80 55.74 L90.30 55.81 L90.80 55.87 L91.30 55.93 L91.80 55.99 L92.30 56.05 L92.80 56.11 L93.30 56.18 L93.80 56.24 L94.30 56.30 L94.80 56.37 L95.30 56.43 L95.80 56.49 L96.30 56.56 L96.80 56.62 L97.30 56.69 L97.80 56.75 L98.30 56.82 L98.80 56.89 L99.30 56.95 L99.80 57.02 L100.30 57.09 L100.80 57.16 L101.30 57.23 L101.80 57.30 L102.30 57.37 L102.80 57.44 L103.30 57.51 L103.80 57.58 L104.30 57.65 L104.80 57.72 L105.30 57.80 L105.80 57.87 L106.30 57.94 L106.80 58.02 L107.30 58.09 L107.80 58.17 L108.30 58.25 L108.80 58.32 L109.30 58.40 L109.80 58.48 L110.30 58.56 L110.80 58.64 L111.30 58.72 L111.80 58.80 L112.30 58.88 L112.80 58.96 L113.30 59.05 L113.80 59.13 L114.30 59.21 L114.80 59.30 L115.30 59.39 L115.80 59.47 L116.30 59.56 L116.80 59.65 L117.30 59.74 L117.80 59.82 L118.30 59.92 L118.80 60.01 L119.30 60.10 L119.80 60.19 L120.30 60.28 L120.80 60.38 L121.30 60.47 L121.80 60.57 L122.30 60.67 L122.80 60.76 L123.30 60.86 L123.80 60.96 L124.30 61.06 L124.80 61.16 L125.30 61.26 L125.80 61.37 L126.30 61.47 L126.80 61.57 L127.30 61.68 L127.80 61.79 L128.30 61.89 L128.80 62.00 L129.30 62.11 L129.80 62.22 L130.30 62.33 L130.80 62.44 L131.30 62.56 L131.80 62.67 L132.30 62.78 L132.80 62.90 L133.30 63.02 L133.80 63.13 L134.30 63.25 L134.80 63.37 L135.30 63.49 L135.80 63.62 L136.30 63.74 L136.80 63.86 L137.30 63.99 L137.80 64.12 L138.30 64.24 L138.80 64.37 L139.30 64.50 L139.80 64.63 L140.30 64.76 L140.80 64.90 L141.30 65.03 L141.80 65.16 L142.30 65.30 L142.80 65.44 L143.30 65.58 L143.80 65.72 L144.30 65.86 L144.80 66.00 L145.30 66.14 L145.80 66.28 L146.30 66.43 L146.80 66.58 L147.30 66.72 L147.80 66.87 L148.30 67.02 L148.80 67.18 L149.30 67.33 L149.80 67.48 L150.30 67.64 L150.80 67.79 L151.30 67.95 L151.80 68.11 L152.30 68.27 L152.80 68.43 L153.30 68.59 L153.80 68.76 L154.30 68.92 L154.80 69.09 L155.30 69.26 L155.80 69.43 L156.30 69.60 L156.80 69.77 L157.30 69.94 L157.80 70.12 L158.30 70.30 L158.80 70.47 L159.30 70.65 L159.80 70.84 L160.30 71.02 L160.80 71.20 L161.30 71.39 L161.80 71.58 L162.30 71.77 L162.80 71.96 L163.30 72.15 L163.80 72.35 L164.30 72.54 L164.80 72.74 L165.30 72.94 L165.80 73.15 L166.30 73.35 L166.80 73.56 L167.30 73.77 L167.80 73.98 L168.30 74.19 L168.80 74.41 L169.30 74.63 L169.80 74.85 L170.30 75.07 L170.80 75.30 L171.30 75.52 L171.80 75.76 L172.30 75.99 L172.80 76.23 L173.30 76.46 L173.80 76.71 L174.30 76.95 L174.80 77.20 L175.30 77.45 L175.80 77.71 L176.30 77.96 L176.80 78.22 L177.30 78.49 L177.80 78.76 L178.30 79.03 L178.80 79.30 L179.30 79.58 L179.80 79.86 L180.30 80.15 L180.80 80.43 L181.30 80.73 L181.80 81.02 L182.30 81.32 L182.80 81.63 L183.30 81.93 L183.80 82.25 L184.30 82.56 L184.80 82.88 L185.30 83.20 L185.80 83.53 L186.30 83.86 L186.80 84.20 L187.30 84.54 L187.80 84.88 L188.30 85.22 L188.80 85.57 L189.30 85.93 L189.80 86.29 L190.30 86.65 L190.80 87.01 L191.30 87.38 L191.80 87.76 L192.30 88.13 L192.80 88.51 L193.30 88.90 L193.80 89.29 L194.30 89.68 L194.80 90.07 L195.30 90.47 L195.80 90.87 L196.30 91.28 L196.80 91.69 L197.30 92.10 L197.80 92.52 L198.30 92.93 L198.80 93.36 L199.30 93.78 L199.80 94.21 L200.30 94.64 L200.80 95.07 L201.30 95.51 L201.80 95.95 L202.30 96.39 L202.80 96.84 L203.30 97.29 L203.80 97.74 L204.30 98.19 L204.80 98.65 L205.30 99.11 L205.80 99.58 L206.30 100.05 L206.80 100.52 L207.30 101.00 L207.80 101.48 L208.30 101.97 L208.80 102.46 L209.30 102.95 L209.80 103.45 L210.30 103.95 L210.80 104.46 L211.30 104.98 L211.80 105.50 L212.30 106.03 L212.80 106.56 L213.30 107.10 L213.80 107.64 L214.30 108.20 L214.80 108.76 L215.30 109.33 L215.80 109.90 L216.30 110.48 L216.80 111.08 L217.30 111.67 L217.80 112.28 L218.30 112.89 L218.80 113.52 L219.30 114.15 L219.80 114.78 L220.30 115.43 L220.80 116.08 L221.30 116.74 L221.80 117.41 L222.30 118.09 L222.80 118.77 L223.30 119.46 L223.80 120.16 L224.30 120.86 L224.80 121.58 L225.30 122.29 L225.80 123.02 L226.30 123.75 L226.80 124.49 L227.30 125.24 L227.80 125.99 L228.30 126.75 L228.80 127.51 L229.30 128.29 L229.80 129.06 L230.30 129.85 L230.80 130.64 L231.30 131.44 L231.80 132.24 L232.30 133.05 L232.80 133.87 L233.30 134.69 L233.80 135.52 L234.30 136.35 L234.80 137.19 L235.30 138.04 L235.80 138.89 L236.30 139.74 L236.80 140.61 L237.30 141.48 L237.80 142.35 L238.30 143.23 L238.80 144.12 L239.30 145.01 L239.80 145.91 L240.30 146.81 L240.80 147.72 L241.30 148.63 L241.80 149.55 L242.30 150.48 L242.80 151.41 L243.30 152.35 L243.80 153.29 L244.30 154.23 L244.80 155.19 L245.30 156.15 L245.80 157.11 L246.30 158.08 L246.80 159.05 L247.30 160.03 L247.80 161.02 L248.30 162.01 L248.80 163.00 L249.30 164.00 L249.80 165.01 L250.00 165.41 L250.05 165.51 L250.10 165.61 L250.15 165.72 L250.20 165.82 L250.25 165.92 L250.30 166.02 L250.35 166.12 L250.40 166.22 L250.45 166.32 L250.50 166.43 L250.55 166.53 L250.60 166.63 L250.65 166.73 L250.70 166.83 L250.75 166.93 L250.80 167.04 L250.85 167.14 L250.90 167.24 L250.95 167.34 L251.00 167.44 L251.05 167.55 L251.10 167.65 L251.15 167.75 L251.20 167.85 L251.25 167.95 L251.30 168.06 L251.35 168.16 L251.40 168.26 L251.45 168.36 L251.50 168.47 L251.55 168.57 L251.60 168.67 L251.65 168.77 L251.70 168.88 L251.75 168.98 L251.80 169.08 L251.85 169.19 L251.90 169.29 L251.95 169.39 L252.00 169.49 L252.05 169.60 L252.10 169.70 L252.15 169.80 L252.20 169.91 L252.25 170.01 L252.30 170.11 L252.35 170.22 L252.40 170.32 L252.45 170.42 L252.50 170.53 L252.55 170.63 L252.60 170.73 L252.65 170.84 L252.70 170.94 L252.75 171.05 L252.80 171.15 L252.85 171.25 L252.90 171.36 L252.95 171.46 L253.00 171.56 L253.05 171.67 L253.10 171.77 L253.15 171.88 L253.20 171.98 L253.25 172.09 L253.30 172.19 L253.35 172.29 L253.40 172.40 L253.45 172.50 L253.50 172.61 L253.55 172.71 L253.60 172.82 L253.65 172.92 L253.70 173.03 L253.75 173.13 L253.80 173.23 L253.85 173.34 L253.90 173.44 L253.95 173.55 L254.00 173.65 L254.05 173.76 L254.10 173.86 L254.15 173.97 L254.20 174.07 L254.25 174.18 L254.30 174.28 L254.35 174.39 L254.40 174.49 L254.45 174.60 L254.50 174.70 L254.55 174.81 L254.60 174.92 L254.65 175.02 L254.70 175.13 L254.75 175.23 L254.80 175.34 L254.85 175.44 L254.90 175.55 L254.95 175.65 L255.00 175.76 L255.05 175.87 L255.10 175.97 L255.15 176.08 L255.20 176.18 L255.25 176.29 L255.30 176.40 L255.35 176.50 L255.40 176.61 L255.45 176.71 L255.50 176.82 L255.55 176.93 L255.60 177.03 L255.65 177.14 L255.70 177.24 L255.75 177.35 L255.80 177.46 L255.85 177.56 L255.90 177.67 L255.95 177.78 L256.00 177.88 L256.05 177.99 L256.10 178.10 L256.15 178.20 L256.20 178.31 L256.25 178.42 L256.30 178.52 L256.35 178.63 L256.40 178.74 L256.45 178.84 L256.50 178.95 L256.55 179.06 L256.60 179.16 L256.65 179.27 L256.70 179.38 L256.75 179.49 L256.80 179.59 L256.85 179.70 L256.90 179.81 L256.95 179.91 L257.00 180.02 L257.05 180.13 L257.10 180.24 L257.15 180.34 L257.20 180.45 L257.25 180.56 L257.30 180.67 L257.35 180.77 L257.40 180.88 L257.45 180.99 L257.50 181.10 L257.55 181.20 L257.60 181.31 L257.65 181.42 L257.70 181.53 L257.75 181.63 L257.80 181.74 L257.85 181.85 L257.90 181.96 L257.95 182.07 L258.00 182.17 L258.05 182.28 L258.10 182.39 L258.15 182.50 L258.20 182.61 L258.25 182.71 L258.30 182.82 L258.35 182.93 L258.40 183.04 L258.45 183.15 L258.50 183.25 L258.55 183.36 L258.60 183.47 L258.65 183.58 L258.70 183.69 L258.75 183.79 L258.80 183.90 L258.85 184.01 L258.90 184.12 L258.95 184.23 L259.00 184.34 L259.05 184.44 L259.10 184.55 L259.15 184.66 L259.20 184.77 L259.25 184.88 L259.30 184.99 L259.35 185.10 L259.40 185.20 L259.45 185.31 L259.50 185.42 L259.55 185.53 L259.60 185.64 L259.65 185.75 L259.70 185.86 L259.75 185.96 L259.80 186.07 L259.85 186.18 L259.90 186.29 L259.95 186.40 L260.00 186.51 L260.05 186.62 L260.10 186.72 L260.15 186.83 L260.20 186.94 L260.25 187.05 L260.30 187.16 L260.35 187.27 L260.40 187.38 L260.45 187.49 L260.50 187.59 L260.55 187.70 L260.60 187.81 L260.65 187.92 L260.70 188.03 L260.75 188.14 L260.80 188.25 L260.85 188.36 L260.90 188.46 L260.95 188.57 L261.00 188.68 L261.05 188.79 L261.10 188.90 L261.15 189.01 L261.20 189.12 L261.25 189.23 L261.30 189.33 L261.35 189.44 L261.40 189.55 L261.45 189.66 L261.50 189.77 L261.55 189.88 L261.60 189.99 L261.65 190.10 L261.70 190.20 L261.75 190.31 L261.80 190.42 L261.85 190.53 L261.90 190.64 L261.95 190.75 L262.00 190.86 L262.05 190.96 L262.10 191.07 L262.15 191.18 L262.20 191.29 L262.25 191.40 L262.30 191.51 L262.35 191.62 L262.40 191.72 L262.45 191.83 L262.50 191.94 L262.55 192.05 L262.60 192.16 L262.65 192.27 L262.70 192.37 L262.75 192.48 L262.80 192.59 L262.85 192.70 L262.90 192.81 L262.95 192.92 L263.00 193.02 L263.05 193.13 L263.10 193.24 L263.15 193.35 L263.20 193.46 L263.25 193.56 L263.30 193.67 L263.35 193.78 L263.40 193.89 L263.45 194.00 L263.50 194.10 L263.55 194.21 L263.60 194.32 L263.65 194.43 L263.70 194.54 L263.75 194.64 L263.80 194.75 L263.85 194.86 L263.90 194.97 L263.95 195.07 L264.00 195.18 L264.05 195.29 L264.10 195.39 L264.15 195.50 L264.20 195.61 L264.25 195.72 L264.30 195.82 L264.35 195.93 L264.40 196.04 L264.45 196.14 L264.50 196.25 L264.55 196.36 L264.60 196.46 L264.65 196.57 L264.70 196.68 L264.75 196.78 L264.80 196.89 L264.85 197.00 L264.90 197.10 L264.95 197.21 L265.00 197.31 L265.05 197.42 L265.10 197.53 L265.15 197.63 L265.20 197.74 L265.25 197.84 L265.30 197.95 L265.35 198.06 L265.40 198.16 L265.45 198.27 L265.50 198.37 L265.55 198.48 L265.60 198.58 L265.65 198.69 L265.70 198.79 L265.75 198.90 L265.80 199.00 L265.85 199.11 L265.90 199.21 L265.95 199.31 L266.00 199.42 L266.05 199.52 L266.10 199.63 L266.15 199.73 L266.20 199.84 L266.25 199.94 L266.30 200.04 L266.35 200.15 L266.40 200.25 L266.45 200.35 L266.50 200.46 L266.55 200.56 L266.60 200.66 L266.65 200.77 L266.70 200.87 L266.75 200.97 L266.80 201.07 L266.85 201.18 L266.90 201.28 L266.95 201.38 L267.00 201.48 L267.05 201.58 L267.10 201.68 L267.15 201.79 L267.20 201.89 L267.25 201.99 L267.30 202.09 L267.35 202.19 L267.40 202.29 L267.45 202.39 L267.50 202.49 L267.55 202.59 L267.60 202.69 L267.65 202.79 L267.70 202.89 L267.75 202.99 L267.80 203.09 L267.85 203.19 L267.90 203.29 L267.95 203.39 L268.00 203.49 L268.05 203.59 L268.10 203.68 L268.15 203.78 L268.20 203.88 L268.25 203.98 L268.30 204.08 L268.35 204.17 L268.40 204.27 L268.45 204.37 L268.50 204.47 L268.55 204.56 L268.60 204.66 L268.65 204.75 L268.70 204.85 L268.75 204.95 L268.80 205.04 L268.85 205.14 L268.90 205.23 L268.95 205.33 L269.00 205.42 L269.05 205.52 L269.10 205.61 L269.15 205.71 L269.20 205.80 L269.25 205.89 L269.30 205.99 L269.35 206.08 L269.40 206.17 L269.45 206.27 L269.50 206.36 L269.55 206.45 L269.60 206.54 L269.65 206.63 L269.70 206.73 L269.75 206.82 L269.80 206.91 L269.85 207.00 L269.90 207.09 L269.95 207.18 L270.00 207.27 L270.05 207.36 L270.10 207.45 L270.15 207.54 L270.20 207.63 L270.25 207.71 L270.30 207.80 L270.35 207.89 L270.40 207.98 L270.45 208.07 L270.50 208.15 L270.55 208.24 L270.60 208.33 L270.65 208.41 L270.70 208.50 L270.75 208.58 L270.80 208.67 L270.85 208.75 L270.90 208.84 L270.95 208.92 L271.00 209.01 L271.05 209.09 L271.10 209.17 L271.15 209.26 L271.20 209.34 L271.25 209.42 L271.30 209.50 L271.35 209.59 L271.40 209.67 L271.45 209.75 L271.50 209.83 L271.55 209.91 L271.60 209.99 L271.65 210.07 L271.70 210.15 L271.75 210.23 L271.80 210.31 L271.85 210.38 L271.90 210.46 L271.95 210.54 L272.00 210.62 L272.05 210.69 L272.10 210.77 L272.15 210.84 L272.20 210.92 L272.25 210.99 L272.30 211.07 L272.35 211.14 L272.40 211.22 L272.45 211.29 L272.50 211.36 L272.55 211.44 L272.60 211.51 L272.65 211.58 L272.70 211.65 L272.75 211.72 L272.80 211.79 L272.85 211.86 L272.90 211.93 L272.95 212.00 L273.00 212.07 L273.05 212.14 L273.10 212.21 L273.15 212.27 L273.20 212.34 L273.25 212.41 L273.30 212.47 L273.35 212.54 L273.40 212.60 L273.45 212.67 L273.50 212.73 L273.55 212.80 L273.60 212.86 L273.65 212.92 L273.70 212.98 L273.75 213.04 L273.80 213.11 L273.85 213.17 L273.90 213.23 L273.95 213.29 L274.00 213.34 L274.05 213.40 L274.10 213.46 L274.15 213.52 L274.20 213.58 L274.25 213.63 L274.30 213.69 L274.35 213.74 L274.40 213.80 L274.45 213.85 L274.50 213.91 L274.55 213.96 L274.60 214.01 L274.65 214.06 L274.70 214.12 L274.75 214.17 L274.80 214.22 L274.85 214.27 L274.90 214.32 L274.95 214.37 L275.00 214.41 L275.05 214.46 L275.10 214.51 L275.15 214.56 L275.20 214.60 L275.25 214.65 L275.30 214.69 L275.35 214.74 L275.40 214.78 L275.45 214.82 L275.50 214.87 L275.55 214.91 L275.60 214.95 L275.65 214.99 L275.70 215.03 L275.75 215.07 L275.80 215.11 L275.85 215.15 L275.90 215.19 L275.95 215.22 L276.00 215.26 L276.05 215.30 L276.10 215.33 L276.15 215.37 L276.20 215.40 L276.25 215.44 L276.30 215.47 L276.35 215.50 L276.40 215.54 L276.45 215.57 L276.50 215.60 L276.55 215.63 L276.60 215.66 L276.65 215.69 L276.70 215.72 L276.75 215.75 L276.80 215.78 L276.85 215.81 L276.90 215.83 L276.95 215.86 L277.00 215.89 L277.05 215.91 L277.10 215.94 L277.15 215.96 L277.20 215.99 L277.25 216.01 L277.30 216.03 L277.35 216.06 L277.40 216.08 L277.45 216.10 L277.50 216.12 L277.55 216.14 L277.60 216.16 L277.65 216.18 L277.70 216.20 L277.75 216.22 L277.80 216.24 L277.85 216.26 L277.90 216.28 L277.95 216.30 L278.00 216.31 L278.05 216.33 L278.10 216.35 L278.15 216.36 L278.20 216.38 L278.25 216.39 L278.30 216.41 L278.35 216.42 L278.40 216.44 L278.45 216.45 L278.50 216.46 L278.55 216.48 L278.60 216.49 L278.65 216.50 L278.70 216.52 L278.75 216.53 L278.80 216.54 L278.85 216.55 L278.90 216.56 L278.95 216.57 L279.00 216.58 L279.05 216.59 L279.10 216.60 L279.15 216.61 L279.20 216.62 L279.25 216.63 L279.30 216.64 L279.35 216.65 L279.40 216.66 L279.45 216.67 L279.50 216.67 L279.55 216.68 L279.60 216.69 L279.65 216.69 L279.70 216.70 L279.75 216.71 L279.80 216.71 L279.85 216.72 L279.90 216.73 L279.95 216.73 L280.00 216.74 L280.05 216.74 L280.10 216.75 L280.15 216.75 L280.20 216.76 L280.25 216.76 L280.30 216.77 L280.35 216.77 L280.40 216.78 L280.45 216.78 L280.50 216.79 L280.55 216.79 L280.60 216.79 L280.65 216.80 L280.70 216.80 L280.75 216.81 L280.80 216.81 L280.85 216.81 L280.90 216.82 L280.95 216.82 L281.00 216.82 L281.05 216.83 L281.10 216.83 L281.15 216.83 L281.20 216.83 L281.25 216.84 L281.30 216.84 L281.35 216.84 L281.40 216.85 L281.45 216.85 L281.50 216.85 L281.55 216.85 L281.60 216.85 L281.65 216.86 L281.70 216.86 L281.75 216.86 L281.80 216.86 L281.85 216.86 L281.90 216.87 L281.95 216.87 L282.00 216.87 L282.05 216.87 L282.10 216.87 L282.15 216.87 L282.20 216.88 L282.25 216.88 L282.30 216.88 L282.35 216.88 L282.40 216.88 L282.45 216.88 L282.50 216.88 L282.55 216.89 L282.60 216.89 L282.65 216.89 L282.70 216.89 L282.75 216.89 L282.80 216.89 L282.85 216.89 L282.90 216.89 L282.95 216.89 L283.00 216.90 L283.05 216.90 L283.10 216.90 L283.15 216.90 L283.20 216.90 L283.25 216.90 L283.30 216.90 L283.35 216.90 L283.40 216.90 L283.45 216.90 L283.50 216.90 L283.55 216.90 L283.60 216.91 L283.65 216.91 L283.70 216.91 L283.75 216.91 L283.80 216.91 L283.85 216.91 L283.90 216.91 L283.95 216.91 L284.00 216.91 L284.05 216.91 L284.10 216.91 L284.15 216.91 L284.20 216.91 L284.25 216.91 L284.30 216.91 L284.35 216.91 L284.40 216.91 L284.45 216.91 L284.50 216.91 L284.55 216.91 L284.60 216.91 L284.65 216.92 L284.70 216.92 L284.75 216.92 L284.80 216.92 L284.85 216.92 L284.90 216.92 L284.95 216.92 L285.00 216.92 L285.05 216.92 L285.10 216.92 L285.15 216.92 L285.20 216.92 L285.25 216.92 L285.30 216.92 L285.35 216.92 L285.40 216.92 L285.45 216.92 L285.50 216.92 L285.55 216.92 L285.60 216.92 L285.65 216.92 L285.70 216.92 L285.75 216.92 L285.80 216.92 L285.85 216.92 L285.90 216.92 L285.95 216.92 L286.00 216.92 L286.05 216.92 L286.10 216.92 L286.15 216.92 L286.20 216.92 L286.25 216.92 L286.30 216.92 L286.35 216.92 L286.40 216.92 L286.45 216.92 L286.50 216.92 L286.55 216.92 L286.60 216.92 L286.65 216.92 L286.70 216.92 L286.75 216.92 L286.80 216.92 L286.85 216.92 L286.90 216.92 L286.95 216.92 L287.00 216.92 L287.05 216.92 L287.10 216.92 L287.15 216.92 L287.20 216.92 L287.25 216.92 L287.30 216.92 L287.35 216.92 L287.40 216.92 L287.45 216.92 L287.50 216.92 L287.55 216.92 L287.60 216.92 L287.65 216.92 L287.70 216.92 L287.75 216.92 L287.80 216.92 L287.85 216.92 L287.90 216.92 L287.95 216.92 L288.00 216.92 L288.05 216.92 L288.10 216.92 L288.15 216.92 L288.20 216.92 L288.25 216.92 L288.30 216.92 L288.35 216.92 L288.40 216.92 L288.45 216.92 L288.50 216.92 L288.55 216.92 L288.60 216.93 L288.65 216.93 L288.70 216.93 L288.75 216.93 L288.80 216.93 L288.85 216.93 L288.90 216.93 L288.95 216.93 L289.00 216.93 L289.05 216.93 L289.10 216.93 L289.15 216.93 L289.20 216.93 L289.25 216.93 L289.30 216.93 L289.35 216.93 L289.40 216.93 L289.45 216.93 L289.50 216.93 L289.55 216.93 L289.60 216.93 L289.65 216.93 L289.70 216.93 L289.75 216.93 L289.80 216.93 L289.85 216.93 L289.90 216.93 L289.95 216.93 L290.00 216.93 L291.00 216.93 L292.00 216.93 L293.00 216.93 L294.00 216.93 L295.00 216.93 L296.00 216.93 L297.00 216.93 L298.00 216.93 L299.00 216.93 L300.00 216.93 L301.00 216.93 L302.00 216.93 L303.00 216.93 L304.00 216.93 L305.00 216.93 L306.00 216.93 L307.00 216.93 L308.00 216.93 L309.00 216.93 L310.00 216.93 L311.00 216.93 L312.00 216.93 L313.00 216.93 L314.00 216.93 L315.00 216.93 L316.00 216.93 L317.00 216.93 L318.00 216.93 L319.00 216.93 L320.00 216.93 L321.00 216.93 L322.00 216.93 L323.00 216.93 L324.00 216.93 L325.00 216.93 L326.00 216.93 L327.00 216.93 L328.00 216.93 L329.00 216.93 L330.00 216.93 L331.00 216.93 L332.00 216.93 L333.00 216.93 L334.00 216.93 L335.00 216.93 L336.00 216.93 L337.00 216.93 L338.00 216.93 L339.00 216.93 L340.00 216.93 L341.00 216.93 L342.00 216.93 L343.00 216.93 L344.00 216.93 L345.00 216.93 L346.00 216.93 L347.00 216.93 L348.00 216.93 L349.00 216.93 L350.00 216.93 L351.00 216.93 L352.00 216.93 L353.00 216.93 L354.00 216.93 L355.00 216.93 L356.00 216.93 L357.00 216.93 L358.00 216.93 L359.00 216.93 L360.00 216.93 L361.00 216.93 L362.00 216.93 L363.00 216.93 L364.00 216.93 L365.00 216.93 L366.00 216.93 L367.00 216.93 L368.00 216.93 L369.00 216.93 L370.00 216.93 L371.00 216.93 L372.00 216.93 L373.00 216.93 L374.00 216.93 L375.00 216.93 L376.00 216.93 L377.00 216.93 L378.00 216.93 L379.00 216.93 L380.00 216.93 L381.00 216.93 L382.00 216.93 L383.00 216.93 L384.00 216.93 L385.00 216.93 L386.00 216.93 L387.00 216.93 L388.00 216.93 L389.00 216.93 L390.00 216.93 L391.00 216.93 L392.00 216.93 L393.00 216.93 L394.00 216.93 L395.00 216.93 L396.00 216.93 L397.00 216.93 L398.00 216.93 L399.00 216.93 L400.00 216.93 L401.00 216.93 L402.00 216.93 L403.00 216.93 L404.00 216.93 L405.00 216.93 L406.00 216.93 L407.00 216.93 L408.00 216.93 L409.00 216.93 L410.00 216.93 L411.00 216.93 L412.00 216.93 L413.00 216.93 L414.00 216.93 L415.00 216.93 L416.00 216.93 L417.00 216.93 L418.00 216.93 L419.00 216.93 L420.00 216.93 L421.00 216.93 L422.00 216.93 L423.00 216.93 L424.00 216.93 L425.00 216.93 L426.00 216.93 L427.00 216.93 L428.00 216.93 L429.00 216.93 L430.00 216.93 L431.00 216.93 L432.00 216.93 L433.00 216.93 L434.00 216.93 L435.00 216.93 L436.00 216.93 L437.00 216.93 L438.00 216.93 L439.00 216.93 L440.00 216.93 L441.00 216.93 L442.00 216.93 L443.00 216.93 L444.00 216.93 L445.00 216.93 L446.00 216.93 L447.00 216.93 L448.00 216.93 L449.00 216.93 L450.00 216.93 L451.00 216.93 L452.00 216.93 L453.00 216.93 L454.00 216.93 L455.00 216.93 L456.00 216.93 L457.00 216.93" fill="none" stroke="#ff0000" stroke-width="1.75" stroke-linejoin="round" stroke-dasharray="6.67 4"/>
<path d="M56.20 310.00 L56.20 309.16 L56.20 308.31 L56.20 307.47 L56.20 306.62 L56.20 305.78 L56.20 304.93 L56.20 304.09 L56.20 303.24 L56.20 302.40 L56.20 301.55 L56.20 300.71 L56.20 299.86 L56.20 299.02 L56.20 298.17 L56.20 297.33 L56.20 296.48 L56.20 295.64 L56.20 294.79 L56.20 293.95 L56.20 293.10 L56.20 292.26 L56.21 291.41 L56.21 290.57 L56.21 289.72 L56.21 288.88 L56.21 288.03 L56.21 287.19 L56.21 286.34 L56.21 285.50 L56.21 284.65 L56.21 283.81 L56.21 282.96 L56.21 282.12 L56.21 281.27 L56.21 280.43 L56.21 279.58 L56.22 278.74 L56.22 277.90 L56.22 277.05 L56.22 276.21 L56.22 275.36 L56.22 274.52 L56.22 273.67 L56.22 272.83 L56.22 271.98 L56.22 271.14 L56.23 270.29 L56.23 269.45 L56.23 268.60 L56.23 267.76 L56.23 266.91 L56.23 266.07 L56.23 265.22 L56.23 264.38 L56.24 263.53 L56.24 262.69 L56.24 261.84 L56.24 261.00 L56.24 260.15 L56.24 259.31 L56.24 258.46 L56.25 257.62 L56.25 256.77 L56.25 255.93 L56.25 255.08 L56.25 254.24 L56.25 253.40 L56.26 252.55 L56.26 251.71 L56.27 250.86 L56.27 250.02 L56.28 249.17 L56.28 248.33 L56.29 247.48 L56.30 246.64 L56.31 245.79 L56.32 244.95 L56.32 244.10 L56.33 243.26 L56.34 242.41 L56.36 241.57 L56.37 240.72 L56.38 239.88 L56.39 239.03 L56.40 238.19 L56.42 237.34 L56.43 236.50 L56.44 235.65 L56.46 234.81 L56.47 233.96 L56.49 233.12 L56.50 232.28 L56.52 231.43 L56.54 230.58 L56.56 229.74 L56.58 228.89 L56.61 228.04 L56.63 227.19 L56.66 226.34 L56.69 225.50 L56.73 224.65 L56.77 223.81 L56.81 222.97 L56.86 222.12 L56.91 221.29 L56.97 220.45 L57.03 219.62 L57.14 218.79 L57.28 217.95 L57.45 217.13 L57.65 216.30 L57.87 215.47 L58.10 214.65 L58.35 213.84 L58.59 213.03 L58.83 212.22 L59.09 211.42 L59.36 210.61 L59.65 209.81 L59.97 209.01 L60.29 208.23 L60.64 207.46 L61.01 206.71 L61.40 205.98 L61.83 205.26 L62.29 204.55 L62.79 203.86 L63.32 203.18 L63.86 202.52 L64.42 201.88 L64.99 201.26 L65.57 200.66 L66.17 200.07 L66.80 199.49 L67.44 198.93 L68.10 198.39 L68.77 197.86 L69.46 197.37 L70.15 196.90 L70.85 196.46 L71.58 196.02 L72.32 195.61 L73.07 195.21 L73.83 194.82 L74.60 194.46 L75.37 194.11 L76.15 193.79 L76.93 193.48 L77.72 193.19 L78.52 192.91 L79.33 192.64 L80.14 192.39 L80.95 192.15 L81.77 191.93 L82.59 191.73 L83.40 191.54 L84.22 191.35 L85.05 191.16 L85.88 190.98 L86.70 190.80 L87.53 190.63 L88.37 190.47 L89.20 190.31 L90.04 190.16 L90.87 190.02 L91.71 189.89 L92.55 189.78 L93.38 189.67 L94.22 189.58 L95.06 189.49 L95.90 189.42 L96.74 189.34 L97.58 189.27 L98.42 189.20 L99.26 189.13 L100.11 189.07 L100.95 189.00 L101.80 188.95 L102.64 188.90 L103.49 188.85 L104.33 188.82 L105.18 188.79 L106.02 188.77 L106.87 188.75 L107.71 188.75 L108.55 188.76 L109.40 188.78 L110.24 188.80 L111.09 188.84 L111.93 188.88 L112.77 188.93 L113.62 188.98 L114.46 189.04 L115.31 189.11 L116.15 189.18 L116.99 189.24 L117.84 189.32 L118.68 189.39 L119.52 189.46 L120.36 189.53 L121.20 189.61 L122.04 189.70 L122.88 189.79 L123.72 189.89 L124.56 190.00 L125.40 190.11 L126.23 190.23 L127.07 190.35 L127.91 190.48 L128.74 190.61 L129.58 190.75 L130.41 190.89 L131.24 191.03 L132.07 191.17 L132.90 191.32 L133.73 191.48 L134.56 191.65 L135.38 191.84 L136.20 192.03 L137.02 192.22 L137.84 192.43 L138.66 192.64 L139.48 192.85 L140.30 193.06 L141.12 193.28 L141.94 193.49 L142.76 193.70 L143.58 193.91 L144.40 194.11 L145.22 194.30 L146.05 194.49 L146.88 194.67 L147.70 194.85 L148.53 195.03 L149.35 195.23 L150.16 195.44 L150.97 195.68 L151.77 195.93 L152.58 196.20 L153.38 196.47 L154.17 196.76 L154.97 197.05 L155.76 197.35 L156.55 197.64 L157.34 197.94 L158.14 198.24 L158.93 198.53 L159.72 198.83 L160.51 199.14 L161.29 199.46 L162.06 199.80 L162.82 200.15 L163.58 200.52 L164.34 200.89 L165.10 201.28 L165.85 201.67 L166.60 202.07 L167.35 202.49 L168.10 202.91 L168.83 203.34 L169.57 203.78 L170.29 204.22 L171.01 204.68 L171.72 205.14 L172.42 205.62 L173.11 206.10 L173.79 206.59 L174.46 207.08 L175.11 207.59 L175.76 208.11 L176.40 208.65 L177.04 209.21 L177.66 209.78 L178.28 210.37 L178.89 210.97 L179.49 211.58 L180.07 212.20 L180.65 212.83 L181.21 213.47 L181.76 214.11 L182.30 214.75 L182.82 215.40 L183.34 216.07 L183.86 216.74 L184.37 217.42 L184.86 218.12 L185.35 218.82 L185.82 219.54 L186.27 220.26 L186.69 220.99 L187.10 221.72 L187.48 222.46 L187.85 223.21 L188.20 223.97 L188.55 224.74 L188.89 225.52 L189.22 226.30 L189.54 227.10 L189.84 227.90 L190.13 228.70 L190.41 229.51 L190.66 230.32 L190.90 231.13 L191.11 231.94 L191.31 232.75 L191.50 233.57 L191.68 234.39 L191.86 235.21 L192.03 236.04 L192.20 236.87 L192.36 237.70 L192.52 238.54 L192.66 239.38 L192.79 240.22 L192.92 241.06 L193.02 241.90 L193.12 242.74 L193.20 243.59 L193.27 244.43 L193.31 245.27 L193.36 246.10 L193.40 246.94 L193.44 247.79 L193.48 248.63 L193.51 249.47 L193.55 250.31 L193.58 251.16 L193.61 252.00 L193.64 252.85 L193.67 253.69 L193.69 254.54 L193.72 255.38 L193.74 256.23 L193.76 257.08 L193.78 257.92 L193.80 258.77 L193.82 259.61 L193.83 260.46 L193.85 261.31 L193.86 262.15 L193.87 263.00 L193.89 263.84 L193.90 264.69 L193.91 265.53 L193.92 266.38 L193.93 267.22 L193.93 268.07 L193.94 268.91 L193.95 269.76 L193.96 270.60 L193.97 271.45 L193.98 272.29 L193.99 273.14 L194.00 273.98 L194.00 274.83 L194.01 275.67 L194.02 276.51 L194.03 277.36 L194.04 278.20 L194.04 279.05 L194.05 279.89 L194.06 280.74 L194.07 281.58 L194.07 282.43 L194.08 283.27 L194.09 284.12 L194.09 284.96 L194.10 285.81 L194.10 286.65 L194.11 287.50 L194.12 288.34 L194.12 289.19 L194.13 290.03 L194.13 290.88 L194.14 291.72 L194.14 292.57 L194.15 293.41 L194.15 294.26 L194.16 295.10 L194.16 295.95 L194.16 296.79 L194.17 297.64 L194.17 298.48 L194.18 299.32 L194.18 300.17 L194.18 301.01 L194.18 301.86 L194.19 302.70 L194.19 303.55 L194.19 304.39 L194.19 305.24 L194.19 306.08 L194.20 306.93 L194.20 307.77 L194.20 308.62 L194.20 309.46 L194.20 310.00 L194.20 310.00 L194.20 310.00 L195.90 310.00 L195.90 310.00 L195.90 310.00 L195.90 310.00 L195.90 310.00 L195.90 310.00 L195.90 309.93 L195.90 309.58 L195.90 309.24 L195.90 308.89 L195.90 308.55 L195.90 308.20 L195.90 307.86 L195.90 307.51 L195.90 307.16 L195.90 306.82 L195.90 306.47 L195.90 306.13 L195.90 305.78 L195.90 305.44 L195.90 305.09 L195.90 304.75 L195.91 304.40 L195.91 304.06 L195.91 303.71 L195.91 303.37 L195.91 303.02 L195.91 302.67 L195.91 302.33 L195.91 301.98 L195.91 301.64 L195.91 301.29 L195.91 300.95 L195.91 300.60 L195.91 300.26 L195.91 299.91 L195.91 299.57 L195.92 299.22 L195.92 298.88 L195.92 298.53 L195.92 298.18 L195.92 297.84 L195.92 297.49 L195.92 297.15 L195.92 296.80 L195.92 296.46 L195.92 296.11 L195.92 295.77 L195.93 295.42 L195.93 295.08 L195.93 294.73 L195.93 294.39 L195.93 294.04 L195.93 293.70 L195.93 293.35 L195.93 293.00 L195.93 292.66 L195.94 292.31 L195.94 291.97 L195.94 291.62 L195.94 291.28 L195.94 290.93 L195.94 290.59 L195.94 290.24 L195.95 289.90 L195.95 289.55 L195.95 289.21 L195.95 288.86 L195.95 288.52 L195.95 288.17 L195.95 287.82 L195.96 287.48 L195.96 287.13 L195.96 286.79 L195.96 286.44 L195.96 286.10 L195.96 285.75 L195.97 285.41 L195.97 285.06 L195.97 284.72 L195.97 284.37 L195.97 284.03 L195.97 283.68 L195.98 283.34 L195.98 282.99 L195.98 282.65 L195.98 282.30 L195.98 281.95 L195.99 281.61 L195.99 281.26 L195.99 280.92 L195.99 280.57 L195.99 280.23 L195.99 279.88 L196.00 279.54 L196.00 279.19 L196.00 278.85 L196.00 278.50 L196.01 278.16 L196.01 277.81 L196.01 277.47 L196.01 277.12 L196.01 276.78 L196.02 276.43 L196.02 276.09 L196.02 275.74 L196.02 275.39 L196.02 275.05 L196.03 274.70 L196.03 274.36 L196.03 274.01 L196.03 273.67 L196.04 273.32 L196.04 272.98 L196.04 272.63 L196.04 272.29 L196.05 271.94 L196.05 271.60 L196.05 271.25 L196.05 270.91 L196.06 270.56 L196.06 270.22 L196.06 269.87 L196.06 269.53 L196.07 269.18 L196.07 268.83 L196.07 268.49 L196.07 268.14 L196.08 267.80 L196.08 267.45 L196.08 267.11 L196.09 266.76 L196.09 266.42 L196.09 266.07 L196.09 265.73 L196.10 265.38 L196.10 265.04 L196.10 264.69 L196.11 264.35 L196.11 264.00 L196.11 263.66 L196.12 263.31 L196.12 262.96 L196.13 262.62 L196.13 262.27 L196.14 261.93 L196.14 261.58 L196.15 261.24 L196.15 260.89 L196.16 260.54 L196.16 260.20 L196.17 259.85 L196.18 259.51 L196.18 259.16 L196.19 258.81 L196.20 258.47 L196.21 258.12 L196.21 257.78 L196.22 257.43 L196.23 257.08 L196.24 256.74 L196.25 256.39 L196.26 256.05 L196.27 255.70 L196.28 255.36 L196.29 255.01 L196.30 254.66 L196.31 254.32 L196.32 253.97 L196.33 253.63 L196.34 253.28 L196.35 252.94 L196.36 252.59 L196.38 252.25 L196.39 251.90 L196.40 251.56 L196.42 251.21 L196.43 250.87 L196.44 250.52 L196.46 250.18 L196.47 249.83 L196.48 249.49 L196.50 249.14 L196.51 248.80 L196.53 248.45 L196.55 248.11 L196.56 247.76 L196.58 247.42 L196.59 247.08 L196.61 246.73 L196.63 246.39 L196.65 246.05 L196.66 245.70 L196.68 245.36 L196.70 245.02 L196.72 244.67 L196.74 244.33 L196.77 243.99 L196.79 243.64 L196.82 243.30 L196.85 242.95 L196.89 242.60 L196.92 242.26 L196.96 241.91 L197.00 241.56 L197.04 241.22 L197.09 240.87 L197.14 240.52 L197.18 240.18 L197.23 239.83 L197.29 239.49 L197.34 239.14 L197.40 238.79 L197.46 238.45 L197.52 238.11 L197.58 237.76 L197.64 237.42 L197.71 237.08 L197.77 236.74 L197.84 236.40 L197.91 236.06 L197.98 235.72 L198.06 235.38 L198.13 235.05 L198.21 234.71 L198.28 234.38 L198.36 234.05 L198.44 233.72 L198.52 233.39 L198.60 233.06 L198.69 232.74 L198.77 232.41 L198.86 232.09 L198.96 231.76 L199.07 231.43 L199.18 231.10 L199.30 230.77 L199.43 230.44 L199.56 230.11 L199.70 229.78 L199.84 229.45 L199.99 229.13 L200.14 228.80 L200.30 228.48 L200.47 228.16 L200.63 227.84 L200.81 227.53 L200.98 227.23 L201.16 226.93 L201.35 226.63 L201.53 226.34 L201.72 226.06 L201.91 225.78 L202.10 225.52 L202.30 225.26 L202.50 225.00 L202.70 224.76 L202.91 224.51 L203.13 224.27 L203.36 224.03 L203.60 223.79 L203.85 223.55 L204.10 223.31 L204.36 223.08 L204.63 222.85 L204.90 222.62 L205.18 222.40 L205.47 222.18 L205.75 221.96 L206.05 221.75 L206.34 221.54 L206.64 221.34 L206.94 221.14 L207.25 220.95 L207.55 220.76 L207.86 220.58 L208.17 220.40 L208.48 220.24 L208.79 220.07 L209.10 219.92 L209.40 219.77 L209.71 219.63 L210.02 219.49 L210.32 219.36 L210.63 219.24 L210.94 219.11 L211.26 218.99 L211.58 218.87 L211.91 218.76 L212.23 218.64 L212.56 218.53 L212.90 218.43 L213.23 218.32 L213.57 218.22 L213.90 218.12 L214.24 218.03 L214.58 217.94 L214.92 217.85 L215.26 217.76 L215.60 217.68 L215.94 217.61 L216.28 217.53 L216.63 217.46 L216.96 217.40 L217.30 217.33 L217.64 217.28 L217.98 217.22 L218.32 217.16 L218.66 217.10 L219.00 217.04 L219.34 216.98 L219.68 216.93 L220.02 216.87 L220.36 216.82 L220.71 216.77 L221.05 216.72 L221.40 216.67 L221.74 216.63 L222.08 216.58 L222.43 216.55 L222.77 216.51 L223.12 216.48 L223.46 216.46 L223.81 216.43 L224.15 216.42 L224.50 216.41 L224.84 216.40 L225.19 216.40 L225.53 216.40 L225.87 216.40 L226.22 216.40 L226.56 216.40 L226.91 216.41 L227.25 216.41 L227.60 216.41 L227.94 216.41 L228.29 216.42 L228.63 216.42 L228.98 216.42 L229.33 216.43 L229.67 216.43 L230.02 216.44 L230.36 216.44 L230.71 216.45 L231.05 216.45 L231.40 216.46 L231.74 216.47 L232.09 216.47 L232.44 216.48 L232.78 216.49 L233.13 216.49 L233.47 216.50 L233.82 216.51 L234.16 216.52 L234.51 216.52 L234.86 216.53 L235.20 216.54 L235.55 216.55 L235.89 216.56 L236.24 216.57 L236.58 216.58 L236.93 216.58 L237.27 216.59 L237.62 216.60 L237.96 216.61 L238.31 216.63 L238.65 216.64 L238.99 216.66 L239.34 216.67 L239.68 216.69 L240.03 216.71 L240.37 216.73 L240.72 216.75 L241.06 216.78 L241.41 216.80 L241.75 216.83 L242.09 216.85 L242.44 216.88 L242.78 216.91 L243.13 216.94 L243.47 216.97 L243.81 217.00 L244.16 217.04 L244.50 217.07 L244.85 217.11 L245.19 217.14 L245.53 217.18 L245.88 217.21 L246.22 217.25 L246.56 217.29 L246.91 217.33 L247.25 217.37 L247.60 217.41 L247.94 217.45 L248.28 217.49 L248.63 217.53 L248.97 217.57 L249.31 217.62 L249.66 217.66 L250.00 217.70 L250.50 217.76 L251.50 217.88 L252.50 218.01 L253.50 218.15 L254.50 218.29 L255.50 218.43 L256.50 218.58 L257.50 218.72 L258.50 218.87 L259.50 219.01 L260.50 219.15 L261.50 219.28 L262.50 219.40 L263.50 219.52 L264.50 219.63 L265.50 219.74 L266.50 219.84 L267.50 219.95 L268.50 220.05 L269.50 220.15 L270.50 220.25 L271.50 220.34 L272.50 220.44 L273.50 220.53 L274.50 220.62 L275.50 220.69 L276.50 220.75 L277.50 220.80 L278.50 220.83 L279.50 220.85 L280.50 220.85 L281.50 220.85 L282.50 220.85 L283.50 220.85 L284.50 220.85 L285.50 220.85 L286.50 220.85 L287.50 220.85 L288.50 220.85 L289.50 220.85 L290.50 220.85 L291.50 220.85 L292.50 220.85 L293.50 220.85 L294.50 220.85 L295.50 220.85 L296.50 220.85 L297.50 220.85 L298.50 220.85 L299.50 220.85 L300.50 220.85 L301.50 220.85 L302.50 220.85 L303.50 220.85 L304.50 220.85 L305.50 220.85 L306.50 220.85 L307.50 220.85 L308.50 220.85 L309.50 220.85 L310.50 220.85 L311.50 220.85 L312.50 220.85 L313.50 220.85 L314.50 220.85 L315.50 220.85 L316.50 220.85 L317.50 220.85 L318.50 220.85 L319.50 220.85 L320.50 220.85 L321.50 220.85 L322.50 220.85 L323.50 220.85 L324.50 220.85 L325.50 220.85 L326.50 220.85 L327.50 220.85 L328.50 220.85 L329.50 220.85 L330.50 220.85 L331.50 220.85 L332.50 220.85 L333.50 220.85 L334.50 220.85 L335.50 220.85 L336.50 220.85 L337.50 220.85 L338.50 220.85 L339.50 220.85 L340.50 220.85 L341.50 220.85 L342.50 220.85 L343.50 220.85 L344.50 220.85 L345.50 220.85 L346.50 220.85 L347.50 220.85 L348.50 220.85 L349.50 220.85 L350.50 220.85 L351.50 220.85 L352.50 220.85 L353.50 220.85 L354.50 220.85 L355.50 220.85 L356.50 220.85 L357.50 220.85 L358.50 220.85 L359.50 220.85 L360.50 220.85 L361.50 220.85 L362.50 220.85 L363.50 220.85 L364.50 220.85 L365.50 220.85 L366.50 220.85 L367.50 220.85 L368.50 220.85 L369.50 220.85 L370.50 220.85 L371.50 220.85 L372.50 220.85 L373.50 220.85 L374.50 220.85 L375.50 220.85 L376.50 220.85 L377.50 220.85 L378.50 220.85 L379.50 220.85 L380.50 220.85 L381.50 220.85 L382.50 220.85 L383.50 220.85 L384.50 220.85 L385.50 220.85 L386.50 220.85 L387.50 220.85 L388.50 220.85 L389.50 220.85 L390.50 220.85 L391.50 220.85 L392.50 220.85 L393.50 220.85 L394.50 220.85 L395.50 220.85 L396.50 220.85 L397.50 220.85 L398.50 220.85 L399.50 220.85 L400.50 220.85 L401.50 220.85 L402.50 220.85 L403.50 220.85 L404.50 220.85 L405.50 220.85 L406.50 220.85 L407.50 220.85 L408.50 220.85 L409.50 220.85 L410.50 220.85 L411.50 220.85 L412.50 220.85 L413.50 220.85 L414.50 220.85 L415.50 220.85 L416.50 220.85 L417.50 220.85 L418.50 220.85 L419.50 220.85 L420.50 220.85 L421.50 220.85 L422.50 220.85 L423.50 220.85 L424.50 220.85 L425.50 220.85 L426.50 220.85 L427.50 220.85 L428.50 220.85 L429.50 220.85 L430.50 220.85 L431.50 220.85 L432.50 220.85 L433.50 220.85 L434.50 220.85 L435.50 220.85 L436.50 220.85 L437.50 220.85 L438.50 220.85 L439.50 220.85 L440.50 220.85 L441.50 220.85 L442.50 220.85 L443.50 220.85 L444.50 220.85 L445.50 220.85 L446.50 220.85 L447.50 220.85 L448.50 220.85 L449.50 220.85 L450.50 220.85 L451.50 220.85 L452.50 220.85 L453.50 220.85 L454.50 220.85 L455.50 220.85 L456.50 220.85" fill="none" stroke="#009a00" stroke-width="1.75" stroke-linejoin="round" stroke-dasharray="6.6 4.1 1.2 4.1 1.2 4.1"/>
<path d="M55.50 300.00 L55.55 298.35 L55.60 296.78 L55.65 295.31 L55.70 294.00 L55.75 292.88 L55.80 292.00 L55.85 291.29 L55.90 290.65 L55.95 290.07 L56.00 289.54 L56.05 289.07 L56.10 288.64 L56.15 288.23 L56.20 287.86 L56.25 287.50 L56.30 287.15 L56.35 286.82 L56.40 286.49 L56.45 286.17 L56.50 285.86 L56.55 285.56 L56.60 285.27 L56.65 284.99 L56.70 284.72 L56.75 284.45 L56.80 284.19 L56.85 283.94 L56.90 283.70 L56.95 283.46 L57.00 283.23 L57.05 283.01 L57.10 282.79 L57.15 282.58 L57.20 282.37 L57.25 282.17 L57.30 281.98 L57.35 281.79 L57.40 281.60 L57.45 281.43 L57.50 281.25 L57.55 281.08 L57.60 280.91 L57.65 280.74 L57.70 280.58 L57.75 280.42 L57.80 280.26 L57.85 280.11 L57.90 279.95 L57.95 279.80 L58.00 279.65 L58.05 279.51 L58.10 279.37 L58.15 279.22 L58.20 279.08 L58.25 278.95 L58.30 278.81 L58.35 278.68 L58.40 278.55 L58.45 278.42 L58.50 278.29 L58.55 278.16 L58.60 278.04 L58.65 277.92 L58.70 277.80 L58.75 277.68 L58.80 277.56 L58.85 277.44 L58.90 277.33 L58.95 277.21 L59.00 277.10 L59.05 276.99 L59.10 276.88 L59.15 276.77 L59.20 276.66 L59.25 276.55 L59.30 276.44 L59.35 276.34 L59.40 276.23 L59.45 276.13 L59.50 276.02 L59.55 275.92 L59.60 275.81 L59.65 275.71 L59.70 275.61 L59.75 275.51 L59.80 275.41 L59.85 275.30 L59.90 275.20 L59.95 275.10 L60.00 275.00 L60.50 274.01 L61.00 273.07 L61.50 272.19 L62.00 271.34 L62.50 270.55 L63.00 269.80 L63.50 269.09 L64.00 268.42 L64.50 267.78 L65.00 267.15 L65.50 266.55 L66.00 265.97 L66.50 265.41 L67.00 264.87 L67.50 264.35 L68.00 263.85 L68.50 263.36 L69.00 262.89 L69.50 262.44 L70.00 262.00 L70.50 261.58 L71.00 261.17 L71.50 260.78 L72.00 260.40 L72.50 260.03 L73.00 259.67 L73.50 259.33 L74.00 258.99 L74.50 258.65 L75.00 258.32 L75.50 257.99 L76.00 257.66 L76.50 257.34 L77.00 257.01 L77.50 256.70 L78.00 256.38 L78.50 256.07 L79.00 255.77 L79.50 255.47 L80.00 255.17 L80.50 254.88 L81.00 254.59 L81.50 254.31 L82.00 254.03 L82.50 253.75 L83.00 253.48 L83.50 253.20 L84.00 252.94 L84.50 252.67 L85.00 252.41 L85.50 252.14 L86.00 251.88 L86.50 251.63 L87.00 251.37 L87.50 251.12 L88.00 250.87 L88.50 250.62 L89.00 250.37 L89.50 250.13 L90.00 249.88 L90.50 249.64 L91.00 249.40 L91.50 249.16 L92.00 248.92 L92.50 248.68 L93.00 248.44 L93.50 248.20 L94.00 247.97 L94.50 247.73 L95.00 247.50 L95.50 247.27 L96.00 247.03 L96.50 246.80 L97.00 246.57 L97.50 246.34 L98.00 246.11 L98.50 245.88 L99.00 245.65 L99.50 245.42 L100.00 245.20 L100.50 244.97 L101.00 244.75 L101.50 244.53 L102.00 244.31 L102.50 244.09 L103.00 243.87 L103.50 243.65 L104.00 243.44 L104.50 243.23 L105.00 243.02 L105.50 242.81 L106.00 242.60 L106.50 242.40 L107.00 242.20 L107.50 242.00 L108.00 241.80 L108.50 241.61 L109.00 241.42 L109.50 241.23 L110.00 241.04 L110.50 240.86 L111.00 240.67 L111.50 240.49 L112.00 240.31 L112.50 240.14 L113.00 239.96 L113.50 239.78 L114.00 239.61 L114.50 239.43 L115.00 239.26 L115.50 239.08 L116.00 238.91 L116.50 238.73 L117.00 238.56 L117.50 238.39 L118.00 238.21 L118.50 238.03 L119.00 237.86 L119.50 237.68 L120.00 237.50 L120.50 237.32 L121.00 237.14 L121.50 236.96 L122.00 236.78 L122.50 236.60 L123.00 236.41 L123.50 236.23 L124.00 236.05 L124.50 235.87 L125.00 235.69 L125.50 235.51 L126.00 235.32 L126.50 235.14 L127.00 234.96 L127.50 234.78 L128.00 234.60 L128.50 234.42 L129.00 234.24 L129.50 234.06 L130.00 233.88 L130.50 233.71 L131.00 233.53 L131.50 233.35 L132.00 233.18 L132.50 233.00 L133.00 232.83 L133.50 232.65 L134.00 232.48 L134.50 232.31 L135.00 232.13 L135.50 231.96 L136.00 231.79 L136.50 231.62 L137.00 231.45 L137.50 231.28 L138.00 231.11 L138.50 230.94 L139.00 230.77 L139.50 230.60 L140.00 230.43 L140.50 230.26 L141.00 230.09 L141.50 229.93 L142.00 229.76 L142.50 229.59 L143.00 229.42 L143.50 229.25 L144.00 229.09 L144.50 228.92 L145.00 228.75 L145.50 228.58 L146.00 228.41 L146.50 228.25 L147.00 228.08 L147.50 227.91 L148.00 227.74 L148.50 227.58 L149.00 227.41 L149.50 227.24 L150.00 227.07 L150.50 226.91 L151.00 226.74 L151.50 226.57 L152.00 226.41 L152.50 226.24 L153.00 226.08 L153.50 225.91 L154.00 225.75 L154.50 225.58 L155.00 225.42 L155.50 225.25 L156.00 225.09 L156.50 224.93 L157.00 224.76 L157.50 224.60 L158.00 224.44 L158.50 224.27 L159.00 224.11 L159.50 223.95 L160.00 223.78 L160.50 223.62 L161.00 223.46 L161.50 223.30 L162.00 223.15 L162.50 223.00 L163.00 222.85 L163.50 222.70 L164.00 222.55 L164.50 222.40 L165.00 222.25 L165.50 222.10 L166.00 221.96 L166.50 221.81 L167.00 221.66 L167.50 221.52 L168.00 221.37 L168.50 221.23 L169.00 221.09 L169.50 220.95 L170.00 220.81 L170.50 220.68 L171.00 220.55 L171.50 220.42 L172.00 220.29 L172.50 220.17 L173.00 220.05 L173.50 219.93 L174.00 219.82 L174.50 219.71 L175.00 219.60 L175.50 219.50 L176.00 219.40 L176.50 219.29 L177.00 219.20 L177.50 219.10 L178.00 219.00 L178.50 218.91 L179.00 218.81 L179.50 218.72 L180.00 218.63 L180.50 218.55 L181.00 218.46 L181.50 218.37 L182.00 218.29 L182.50 218.21 L183.00 218.13 L183.50 218.05 L184.00 217.98 L184.50 217.90 L185.00 217.83 L185.50 217.76 L186.00 217.69 L186.50 217.63 L187.00 217.56 L187.50 217.50 L188.00 217.44 L188.50 217.38 L189.00 217.32 L189.50 217.26 L190.00 217.20 L190.50 217.15 L191.00 217.09 L191.50 217.03 L192.00 216.98 L192.50 216.93 L193.00 216.87 L193.50 216.82 L194.00 216.77 L194.50 216.72 L195.00 216.68 L195.50 216.63 L196.00 216.59 L196.50 216.55 L197.00 216.51 L197.50 216.47 L198.00 216.43 L198.50 216.39 L199.00 216.36 L199.50 216.33 L200.00 216.30 L200.50 216.27 L201.00 216.24 L201.50 216.22 L202.00 216.19 L202.50 216.17 L203.00 216.14 L203.50 216.12 L204.00 216.09 L204.50 216.07 L205.00 216.05 L205.50 216.02 L206.00 216.00 L206.50 215.98 L207.00 215.96 L207.50 215.94 L208.00 215.92 L208.50 215.91 L209.00 215.89 L209.50 215.87 L210.00 215.86 L210.50 215.85 L211.00 215.83 L211.50 215.82 L212.00 215.81 L212.50 215.80 L213.00 215.79 L213.50 215.78 L214.00 215.77 L214.50 215.76 L215.00 215.75 L215.50 215.74 L216.00 215.74 L216.50 215.73 L217.00 215.72 L217.50 215.72 L218.00 215.71 L218.50 215.71 L219.00 215.70 L219.50 215.70 L220.00 215.70 L220.50 215.70 L221.00 215.70 L221.50 215.71 L222.00 215.71 L222.50 215.72 L223.00 215.72 L223.50 215.73 L224.00 215.73 L224.50 215.74 L225.00 215.75 L225.50 215.76 L226.00 215.77 L226.50 215.79 L227.00 215.80 L227.50 215.82 L228.00 215.85 L228.50 215.87 L229.00 215.90 L229.50 215.92 L230.00 215.95 L230.50 215.98 L231.00 216.02 L231.50 216.05 L232.00 216.09 L232.50 216.12 L233.00 216.16 L233.50 216.20 L234.00 216.23 L234.50 216.27 L235.00 216.31 L235.50 216.35 L236.00 216.39 L236.50 216.43 L237.00 216.46 L237.50 216.50 L238.00 216.54 L238.50 216.58 L239.00 216.62 L239.50 216.66 L240.00 216.70 L240.50 216.74 L241.00 216.78 L241.50 216.83 L242.00 216.87 L242.50 216.92 L243.00 216.97 L243.50 217.02 L244.00 217.06 L244.50 217.11 L245.00 217.16 L245.50 217.21 L246.00 217.27 L246.50 217.32 L247.00 217.37 L247.50 217.42 L248.00 217.48 L248.50 217.53 L249.00 217.59 L249.50 217.64 L250.00 217.70 L250.50 217.76 L251.00 217.82 L251.50 217.88 L252.00 217.94 L252.50 218.01 L253.00 218.08 L253.50 218.15 L254.00 218.22 L254.50 218.29 L255.00 218.36 L255.50 218.43 L256.00 218.51 L256.50 218.58 L257.00 218.65 L257.50 218.72 L258.00 218.80 L258.50 218.87 L259.00 218.94 L259.50 219.01 L260.00 219.08 L260.50 219.15 L261.00 219.21 L261.50 219.28 L262.00 219.34 L262.50 219.40 L263.00 219.46 L263.50 219.52 L264.00 219.57 L264.50 219.63 L265.00 219.68 L265.50 219.74 L266.00 219.79 L266.50 219.84 L267.00 219.90 L267.50 219.95 L268.00 220.00 L268.50 220.05 L269.00 220.10 L269.50 220.15 L270.00 220.20 L270.50 220.25 L271.00 220.30 L271.50 220.34 L272.00 220.39 L272.50 220.44 L273.00 220.49 L273.50 220.53 L274.00 220.58 L274.50 220.62 L275.00 220.66 L275.50 220.69 L276.00 220.72 L276.50 220.75 L277.00 220.78 L277.50 220.80 L278.00 220.82 L278.50 220.83 L279.00 220.84 L279.50 220.85 L280.00 220.85 L280.50 220.85 L281.00 220.85 L281.50 220.85 L282.00 220.85 L282.50 220.85 L283.00 220.85 L283.50 220.85 L284.00 220.85 L284.50 220.85 L285.00 220.85 L285.50 220.85 L286.00 220.85 L286.50 220.85 L287.00 220.85 L287.50 220.85 L288.00 220.85 L288.50 220.85 L289.00 220.85 L289.50 220.85 L290.00 220.85 L290.50 220.85 L291.00 220.85 L291.50 220.85 L292.00 220.85 L292.50 220.85 L293.00 220.85 L293.50 220.85 L294.00 220.85 L294.50 220.85 L295.00 220.85 L295.50 220.85 L296.00 220.85 L296.50 220.85 L297.00 220.85 L297.50 220.85 L298.00 220.85 L298.50 220.85 L299.00 220.85 L299.50 220.85 L300.00 220.85 L300.50 220.85 L301.00 220.85 L301.50 220.85 L302.00 220.85 L302.50 220.85 L303.00 220.85 L303.50 220.85 L304.00 220.85 L304.50 220.85 L305.00 220.85 L305.50 220.85 L306.00 220.85 L306.50 220.85 L307.00 220.85 L307.50 220.85 L308.00 220.85 L308.50 220.85 L309.00 220.85 L309.50 220.85 L310.00 220.85 L310.50 220.85 L311.00 220.85 L311.50 220.85 L312.00 220.85 L312.50 220.85 L313.00 220.85 L313.50 220.85 L314.00 220.85 L314.50 220.85 L315.00 220.85 L315.50 220.85 L316.00 220.85 L316.50 220.85 L317.00 220.85 L317.50 220.85 L318.00 220.85 L318.50 220.85 L319.00 220.85 L319.50 220.85 L320.00 220.85 L320.50 220.85 L321.00 220.85 L321.50 220.85 L322.00 220.85 L322.50 220.85 L323.00 220.85 L323.50 220.85 L324.00 220.85 L324.50 220.85 L325.00 220.85 L325.50 220.85 L326.00 220.85 L326.50 220.85 L327.00 220.85 L327.50 220.85 L328.00 220.85 L328.50 220.85 L329.00 220.85 L329.50 220.85 L330.00 220.85 L330.50 220.85 L331.00 220.85 L331.50 220.85 L332.00 220.85 L332.50 220.85 L333.00 220.85 L333.50 220.85 L334.00 220.85 L334.50 220.85 L335.00 220.85 L335.50 220.85 L336.00 220.85 L336.50 220.85 L337.00 220.85 L337.50 220.85 L338.00 220.85 L338.50 220.85 L339.00 220.85 L339.50 220.85 L340.00 220.85 L340.50 220.85 L341.00 220.85 L341.50 220.85 L342.00 220.85 L342.50 220.85 L343.00 220.85 L343.50 220.85 L344.00 220.85 L344.50 220.85 L345.00 220.85 L345.50 220.85 L346.00 220.85 L346.50 220.85 L347.00 220.85 L347.50 220.85 L348.00 220.85 L348.50 220.85 L349.00 220.85 L349.50 220.85 L350.00 220.85 L350.50 220.85 L351.00 220.85 L351.50 220.85 L352.00 220.85 L352.50 220.85 L353.00 220.85 L353.50 220.85 L354.00 220.85 L354.50 220.85 L355.00 220.85 L355.50 220.85 L356.00 220.85 L356.50 220.85 L357.00 220.85 L357.50 220.85 L358.00 220.85 L358.50 220.85 L359.00 220.85 L359.50 220.85 L360.00 220.85 L360.50 220.85 L361.00 220.85 L361.50 220.85 L362.00 220.85 L362.50 220.85 L363.00 220.85 L363.50 220.85 L364.00 220.85 L364.50 220.85 L365.00 220.85 L365.50 220.85 L366.00 220.85 L366.50 220.85 L367.00 220.85 L367.50 220.85 L368.00 220.85 L368.50 220.85 L369.00 220.85 L369.50 220.85 L370.00 220.85 L370.50 220.85 L371.00 220.85 L371.50 220.85 L372.00 220.85 L372.50 220.85 L373.00 220.85 L373.50 220.85 L374.00 220.85 L374.50 220.85 L375.00 220.85 L375.50 220.85 L376.00 220.85 L376.50 220.85 L377.00 220.85 L377.50 220.85 L378.00 220.85 L378.50 220.85 L379.00 220.85 L379.50 220.85 L380.00 220.85 L380.50 220.85 L381.00 220.85 L381.50 220.85 L382.00 220.85 L382.50 220.85 L383.00 220.85 L383.50 220.85 L384.00 220.85 L384.50 220.85 L385.00 220.85 L385.50 220.85 L386.00 220.85 L386.50 220.85 L387.00 220.85 L387.50 220.85 L388.00 220.85 L388.50 220.85 L389.00 220.85 L389.50 220.85 L390.00 220.85 L390.50 220.85 L391.00 220.85 L391.50 220.85 L392.00 220.85 L392.50 220.85 L393.00 220.85 L393.50 220.85 L394.00 220.85 L394.50 220.85 L395.00 220.85 L395.50 220.85 L396.00 220.85 L396.50 220.85 L397.00 220.85 L397.50 220.85 L398.00 220.85 L398.50 220.85 L399.00 220.85 L399.50 220.85 L400.00 220.85 L400.50 220.85 L401.00 220.85 L401.50 220.85 L402.00 220.85 L402.50 220.85 L403.00 220.85 L403.50 220.85 L404.00 220.85 L404.50 220.85 L405.00 220.85 L405.50 220.85 L406.00 220.85 L406.50 220.85 L407.00 220.85 L407.50 220.85 L408.00 220.85 L408.50 220.85 L409.00 220.85 L409.50 220.85 L410.00 220.85 L410.50 220.85 L411.00 220.85 L411.50 220.85 L412.00 220.85 L412.50 220.85 L413.00 220.85 L413.50 220.85 L414.00 220.85 L414.50 220.85 L415.00 220.85 L415.50 220.85 L416.00 220.85 L416.50 220.85 L417.00 220.85 L417.50 220.85 L418.00 220.85 L418.50 220.85 L419.00 220.85 L419.50 220.85 L420.00 220.85 L420.50 220.85 L421.00 220.85 L421.50 220.85 L422.00 220.85 L422.50 220.85 L423.00 220.85 L423.50 220.85 L424.00 220.85 L424.50 220.85 L425.00 220.85 L425.50 220.85 L426.00 220.85 L426.50 220.85 L427.00 220.85 L427.50 220.85 L428.00 220.85 L428.50 220.85 L429.00 220.85 L429.50 220.85 L430.00 220.85 L430.50 220.85 L431.00 220.85 L431.50 220.85 L432.00 220.85 L432.50 220.85 L433.00 220.85 L433.50 220.85 L434.00 220.85 L434.50 220.85 L435.00 220.85 L435.50 220.85 L436.00 220.85 L436.50 220.85 L437.00 220.85 L437.50 220.85 L438.00 220.85 L438.50 220.85 L439.00 220.85 L439.50 220.85 L440.00 220.85 L440.50 220.85 L441.00 220.85 L441.50 220.85 L442.00 220.85 L442.50 220.85 L443.00 220.85 L443.50 220.85 L444.00 220.85 L444.50 220.85 L445.00 220.85 L445.50 220.85 L446.00 220.85 L446.50 220.85 L447.00 220.85 L447.50 220.85 L448.00 220.85 L448.50 220.85 L449.00 220.85 L449.50 220.85 L450.00 220.85 L450.50 220.85 L451.00 220.85 L451.50 220.85 L452.00 220.85 L452.50 220.85 L453.00 220.85 L453.50 220.85 L454.00 220.85 L454.50 220.85 L455.00 220.85 L455.50 220.85 L456.00 220.85 L456.50 220.85 L457.00 220.85" fill="none" stroke="#000000" stroke-width="1.75" stroke-linejoin="round"/>
</g>
<g stroke="#000" stroke-width="1">
<line x1="48.99" y1="298.20" x2="48.99" y2="294.70"/><line x1="48.99" y1="1.80" x2="48.99" y2="5.30"/><line x1="55.80" y1="298.20" x2="55.80" y2="290.80"/><line x1="55.80" y1="1.80" x2="55.80" y2="9.20"/><line x1="100.59" y1="298.20" x2="100.59" y2="294.70"/><line x1="100.59" y1="1.80" x2="100.59" y2="5.30"/><line x1="126.80" y1="298.20" x2="126.80" y2="294.70"/><line x1="126.80" y1="1.80" x2="126.80" y2="5.30"/><line x1="145.39" y1="298.20" x2="145.39" y2="294.70"/><line x1="145.39" y1="1.80" x2="145.39" y2="5.30"/><line x1="159.81" y1="298.20" x2="159.81" y2="294.70"/><line x1="159.81" y1="1.80" x2="159.81" y2="5.30"/><line x1="171.59" y1="298.20" x2="171.59" y2="294.70"/><line x1="171.59" y1="1.80" x2="171.59" y2="5.30"/><line x1="181.55" y1="298.20" x2="181.55" y2="294.70"/><line x1="181.55" y1="1.80" x2="181.55" y2="5.30"/><line x1="190.18" y1="298.20" x2="190.18" y2="294.70"/><line x1="190.18" y1="1.80" x2="190.18" y2="5.30"/><line x1="197.79" y1="298.20" x2="197.79" y2="294.70"/><line x1="197.79" y1="1.80" x2="197.79" y2="5.30"/><line x1="204.60" y1="298.20" x2="204.60" y2="290.80"/><line x1="204.60" y1="1.80" x2="204.60" y2="9.20"/><line x1="249.39" y1="298.20" x2="249.39" y2="294.70"/><line x1="249.39" y1="1.80" x2="249.39" y2="5.30"/><line x1="275.60" y1="298.20" x2="275.60" y2="294.70"/><line x1="275.60" y1="1.80" x2="275.60" y2="5.30"/><line x1="294.19" y1="298.20" x2="294.19" y2="294.70"/><line x1="294.19" y1="1.80" x2="294.19" y2="5.30"/><line x1="308.61" y1="298.20" x2="308.61" y2="294.70"/><line x1="308.61" y1="1.80" x2="308.61" y2="5.30"/><line x1="320.39" y1="298.20" x2="320.39" y2="294.70"/><line x1="320.39" y1="1.80" x2="320.39" y2="5.30"/><line x1="330.35" y1="298.20" x2="330.35" y2="294.70"/><line x1="330.35" y1="1.80" x2="330.35" y2="5.30"/><line x1="338.98" y1="298.20" x2="338.98" y2="294.70"/><line x1="338.98" y1="1.80" x2="338.98" y2="5.30"/><line x1="346.59" y1="298.20" x2="346.59" y2="294.70"/><line x1="346.59" y1="1.80" x2="346.59" y2="5.30"/><line x1="353.40" y1="298.20" x2="353.40" y2="290.80"/><line x1="353.40" y1="1.80" x2="353.40" y2="9.20"/><line x1="398.19" y1="298.20" x2="398.19" y2="294.70"/><line x1="398.19" y1="1.80" x2="398.19" y2="5.30"/><line x1="424.40" y1="298.20" x2="424.40" y2="294.70"/><line x1="424.40" y1="1.80" x2="424.40" y2="5.30"/><line x1="442.99" y1="298.20" x2="442.99" y2="294.70"/><line x1="442.99" y1="1.80" x2="442.99" y2="5.30"/><line x1="41.15" y1="293.15" x2="44.85" y2="293.15"/><line x1="457.15" y1="293.15" x2="453.45" y2="293.15"/><line x1="41.15" y1="289.88" x2="44.85" y2="289.88"/><line x1="457.15" y1="289.88" x2="453.45" y2="289.88"/><line x1="41.15" y1="287.34" x2="44.85" y2="287.34"/><line x1="457.15" y1="287.34" x2="453.45" y2="287.34"/><line x1="41.15" y1="279.45" x2="48.85" y2="279.45"/><line x1="457.15" y1="279.45" x2="449.45" y2="279.45"/><line x1="41.15" y1="271.56" x2="44.85" y2="271.56"/><line x1="457.15" y1="271.56" x2="453.45" y2="271.56"/><line x1="41.15" y1="266.95" x2="44.85" y2="266.95"/><line x1="457.15" y1="266.95" x2="453.45" y2="266.95"/><line x1="41.15" y1="263.68" x2="44.85" y2="263.68"/><line x1="457.15" y1="263.68" x2="453.45" y2="263.68"/><line x1="41.15" y1="261.14" x2="44.85" y2="261.14"/><line x1="457.15" y1="261.14" x2="453.45" y2="261.14"/><line x1="41.15" y1="253.25" x2="48.85" y2="253.25"/><line x1="457.15" y1="253.25" x2="449.45" y2="253.25"/><line x1="41.15" y1="245.36" x2="44.85" y2="245.36"/><line x1="457.15" y1="245.36" x2="453.45" y2="245.36"/><line x1="41.15" y1="240.75" x2="44.85" y2="240.75"/><line x1="457.15" y1="240.75" x2="453.45" y2="240.75"/><line x1="41.15" y1="237.48" x2="44.85" y2="237.48"/><line x1="457.15" y1="237.48" x2="453.45" y2="237.48"/><line x1="41.15" y1="234.94" x2="44.85" y2="234.94"/><line x1="457.15" y1="234.94" x2="453.45" y2="234.94"/><line x1="41.15" y1="227.05" x2="48.85" y2="227.05"/><line x1="457.15" y1="227.05" x2="449.45" y2="227.05"/><line x1="41.15" y1="219.16" x2="44.85" y2="219.16"/><line x1="457.15" y1="219.16" x2="453.45" y2="219.16"/><line x1="41.15" y1="214.55" x2="44.85" y2="214.55"/><line x1="457.15" y1="214.55" x2="453.45" y2="214.55"/><line x1="41.15" y1="211.28" x2="44.85" y2="211.28"/><line x1="457.15" y1="211.28" x2="453.45" y2="211.28"/><line x1="41.15" y1="208.74" x2="44.85" y2="208.74"/><line x1="457.15" y1="208.74" x2="453.45" y2="208.74"/><line x1="41.15" y1="200.85" x2="48.85" y2="200.85"/><line x1="457.15" y1="200.85" x2="449.45" y2="200.85"/><line x1="41.15" y1="192.96" x2="44.85" y2="192.96"/><line x1="457.15" y1="192.96" x2="453.45" y2="192.96"/><line x1="41.15" y1="188.35" x2="44.85" y2="188.35"/><line x1="457.15" y1="188.35" x2="453.45" y2="188.35"/><line x1="41.15" y1="185.08" x2="44.85" y2="185.08"/><line x1="457.15" y1="185.08" x2="453.45" y2="185.08"/><line x1="41.15" y1="182.54" x2="44.85" y2="182.54"/><line x1="457.15" y1="182.54" x2="453.45" y2="182.54"/><line x1="41.15" y1="174.65" x2="48.85" y2="174.65"/><line x1="457.15" y1="174.65" x2="449.45" y2="174.65"/><line x1="41.15" y1="166.76" x2="44.85" y2="166.76"/><line x1="457.15" y1="166.76" x2="453.45" y2="166.76"/><line x1="41.15" y1="162.15" x2="44.85" y2="162.15"/><line x1="457.15" y1="162.15" x2="453.45" y2="162.15"/><line x1="41.15" y1="158.88" x2="44.85" y2="158.88"/><line x1="457.15" y1="158.88" x2="453.45" y2="158.88"/><line x1="41.15" y1="156.34" x2="44.85" y2="156.34"/><line x1="457.15" y1="156.34" x2="453.45" y2="156.34"/><line x1="41.15" y1="148.45" x2="48.85" y2="148.45"/><line x1="457.15" y1="148.45" x2="449.45" y2="148.45"/><line x1="41.15" y1="140.56" x2="44.85" y2="140.56"/><line x1="457.15" y1="140.56" x2="453.45" y2="140.56"/><line x1="41.15" y1="135.95" x2="44.85" y2="135.95"/><line x1="457.15" y1="135.95" x2="453.45" y2="135.95"/><line x1="41.15" y1="132.68" x2="44.85" y2="132.68"/><line x1="457.15" y1="132.68" x2="453.45" y2="132.68"/><line x1="41.15" y1="130.14" x2="44.85" y2="130.14"/><line x1="457.15" y1="130.14" x2="453.45" y2="130.14"/><line x1="41.15" y1="122.25" x2="48.85" y2="122.25"/><line x1="457.15" y1="122.25" x2="449.45" y2="122.25"/><line x1="41.15" y1="114.36" x2="44.85" y2="114.36"/><line x1="457.15" y1="114.36" x2="453.45" y2="114.36"/><line x1="41.15" y1="109.75" x2="44.85" y2="109.75"/><line x1="457.15" y1="109.75" x2="453.45" y2="109.75"/><line x1="41.15" y1="106.48" x2="44.85" y2="106.48"/><line x1="457.15" y1="106.48" x2="453.45" y2="106.48"/><line x1="41.15" y1="103.94" x2="44.85" y2="103.94"/><line x1="457.15" y1="103.94" x2="453.45" y2="103.94"/><line x1="41.15" y1="96.05" x2="48.85" y2="96.05"/><line x1="457.15" y1="96.05" x2="449.45" y2="96.05"/><line x1="41.15" y1="88.16" x2="44.85" y2="88.16"/><line x1="457.15" y1="88.16" x2="453.45" y2="88.16"/><line x1="41.15" y1="83.55" x2="44.85" y2="83.55"/><line x1="457.15" y1="83.55" x2="453.45" y2="83.55"/><line x1="41.15" y1="80.28" x2="44.85" y2="80.28"/><line x1="457.15" y1="80.28" x2="453.45" y2="80.28"/><line x1="41.15" y1="77.74" x2="44.85" y2="77.74"/><line x1="457.15" y1="77.74" x2="453.45" y2="77.74"/><line x1="41.15" y1="69.85" x2="48.85" y2="69.85"/><line x1="457.15" y1="69.85" x2="449.45" y2="69.85"/><line x1="41.15" y1="61.96" x2="44.85" y2="61.96"/><line x1="457.15" y1="61.96" x2="453.45" y2="61.96"/><line x1="41.15" y1="57.35" x2="44.85" y2="57.35"/><line x1="457.15" y1="57.35" x2="453.45" y2="57.35"/><line x1="41.15" y1="54.08" x2="44.85" y2="54.08"/><line x1="457.15" y1="54.08" x2="453.45" y2="54.08"/><line x1="41.15" y1="51.54" x2="44.85" y2="51.54"/><line x1="457.15" y1="51.54" x2="453.45" y2="51.54"/><line x1="41.15" y1="43.65" x2="48.85" y2="43.65"/><line x1="457.15" y1="43.65" x2="449.45" y2="43.65"/><line x1="41.15" y1="35.76" x2="44.85" y2="35.76"/><line x1="457.15" y1="35.76" x2="453.45" y2="35.76"/><line x1="41.15" y1="31.15" x2="44.85" y2="31.15"/><line x1="457.15" y1="31.15" x2="453.45" y2="31.15"/><line x1="41.15" y1="27.88" x2="44.85" y2="27.88"/><line x1="457.15" y1="27.88" x2="453.45" y2="27.88"/><line x1="41.15" y1="25.34" x2="44.85" y2="25.34"/><line x1="457.15" y1="25.34" x2="453.45" y2="25.34"/><line x1="41.15" y1="17.45" x2="48.85" y2="17.45"/><line x1="457.15" y1="17.45" x2="449.45" y2="17.45"/><line x1="41.15" y1="9.56" x2="44.85" y2="9.56"/><line x1="457.15" y1="9.56" x2="453.45" y2="9.56"/><line x1="41.15" y1="4.95" x2="44.85" y2="4.95"/><line x1="457.15" y1="4.95" x2="453.45" y2="4.95"/>
</g>
<rect x="41.15" y="1.8" width="416.0" height="296.4" fill="none" stroke="#000" stroke-width="1.7"/>
<line x1="235.90" y1="19.10" x2="267.20" y2="19.10" stroke="#000000" stroke-width="1.40"/>
<line x1="235.90" y1="40.90" x2="267.20" y2="40.90" stroke="#009a00" stroke-width="1.40" stroke-dasharray="1.3 3.9 7.2 3.2 1.3 3.0 1.3 3.2 1.1 2.3 3.5 9"/>
<line x1="235.90" y1="62.40" x2="267.20" y2="62.40" stroke="#ff0000" stroke-width="1.40" stroke-dasharray="7.2 3.3 7.8 3.3 7.2 9"/>
<line x1="235.90" y1="84.90" x2="267.20" y2="84.90" stroke="#0000ff" stroke-width="1.40" stroke-dasharray="1.3 3.9 7.2 3.6 1.3 3.9 7.1 9"/>
<line x1="235.90" y1="106.90" x2="267.20" y2="106.90" stroke="#ffa500" stroke-width="1.40" stroke-dasharray="7.2 3.3 2 3.6 7 3.6 4.6 9"/>
<line x1="235.90" y1="129.40" x2="267.20" y2="129.40" stroke="#660050" stroke-width="2.60" stroke-dasharray="2.6 6.8"/>
<g style="filter:grayscale(1)">
<text x="37.50" y="24.55" font-size="13.2" text-anchor="end">10<tspan font-size="9.4" dy="-7.6" dx="0.2">0</tspan></text>
<text x="38.50" y="50.75" font-size="13.2" text-anchor="end">10<tspan font-size="9.4" dy="-7.6" dx="0.2"><tspan letter-spacing="-0.9">-</tspan>1</tspan></text>
<text x="38.50" y="76.95" font-size="13.2" text-anchor="end">10<tspan font-size="9.4" dy="-7.6" dx="0.2"><tspan letter-spacing="-0.9">-</tspan>2</tspan></text>
<text x="38.50" y="103.15" font-size="13.2" text-anchor="end">10<tspan font-size="9.4" dy="-7.6" dx="0.2"><tspan letter-spacing="-0.9">-</tspan>3</tspan></text>
<text x="38.50" y="129.35" font-size="13.2" text-anchor="end">10<tspan font-size="9.4" dy="-7.6" dx="0.2"><tspan letter-spacing="-0.9">-</tspan>4</tspan></text>
<text x="38.50" y="155.55" font-size="13.2" text-anchor="end">10<tspan font-size="9.4" dy="-7.6" dx="0.2"><tspan letter-spacing="-0.9">-</tspan>5</tspan></text>
<text x="38.50" y="181.75" font-size="13.2" text-anchor="end">10<tspan font-size="9.4" dy="-7.6" dx="0.2"><tspan letter-spacing="-0.9">-</tspan>6</tspan></text>
<text x="38.50" y="207.95" font-size="13.2" text-anchor="end">10<tspan font-size="9.4" dy="-7.6" dx="0.2"><tspan letter-spacing="-0.9">-</tspan>7</tspan></text>
<text x="38.50" y="234.15" font-size="13.2" text-anchor="end">10<tspan font-size="9.4" dy="-7.6" dx="0.2"><tspan letter-spacing="-0.9">-</tspan>8</tspan></text>
<text x="38.50" y="260.35" font-size="13.2" text-anchor="end">10<tspan font-size="9.4" dy="-7.6" dx="0.2"><tspan letter-spacing="-0.9">-</tspan>9</tspan></text>
<text x="38.50" y="286.55" font-size="13.2" text-anchor="end">10<tspan font-size="9.4" dy="-7.6" dx="0.2"><tspan letter-spacing="-0.9">-</tspan>10</tspan></text>
<text x="45.00" y="317.20" font-size="13.2" text-anchor="start">10<tspan font-size="9.4" dy="-7.6" dx="0.2">-1</tspan></text>
<text x="195.30" y="317.20" font-size="13.2" text-anchor="start">10<tspan font-size="9.4" dy="-7.6" dx="0.2">0</tspan></text>
<text x="344.20" y="317.20" font-size="13.2" text-anchor="start">10<tspan font-size="9.4" dy="-7.6" dx="0.2">1</tspan></text>
<text transform="translate(271.60,23.15) scale(1.140,1)" font-size="10.7" font-style="italic">η</text><text transform="translate(277.80,26.20) scale(1.100,1)" font-size="7.8" font-style="italic">B</text><text x="287.50" y="23.05" font-size="11">(</text><text transform="translate(291.30,23.15) scale(1.140,1)" font-size="10.7" font-style="italic">η</text><text transform="translate(297.70,26.20) scale(1.100,1)" font-size="7.8" font-style="italic">B</text><text transform="translate(299.80,16.15) scale(1.060,1)" font-size="8.6" font-style="italic">in</text><text x="307.40" y="23.05" font-size="11">=</text><text x="318.10" y="23.05" font-size="11">0</text><text x="325.00" y="23.05" font-size="11">,</text><text transform="translate(332.50,23.15) scale(1.140,1)" font-size="10.7" font-style="italic">η</text><text transform="translate(339.20,26.20) scale(1.100,1)" font-size="7.8" font-style="italic">L</text><text transform="translate(344.60,28.15) scale(1.050,1)" font-size="6.5" font-style="italic">I</text><text transform="translate(340.80,16.15) scale(1.060,1)" font-size="8.6" font-style="italic">in</text><text x="349.40" y="23.05" font-size="11">=</text><text x="360.00" y="23.05" font-size="11">0</text><text x="366.90" y="23.05" font-size="11">,</text><text transform="translate(373.30,23.15) scale(1.140,1)" font-size="10.7" font-style="italic">η</text><text transform="translate(379.80,26.20) scale(1.100,1)" font-size="7.8" font-style="italic">N</text><text transform="translate(386.00,28.15) scale(1.050,1)" font-size="7" font-style="italic">α</text><text transform="translate(383.90,16.15) scale(1.060,1)" font-size="8.6" font-style="italic">in</text><text x="393.70" y="23.05" font-size="11">=</text><text x="403.60" y="23.05" font-size="11">1</text><text x="409.90" y="23.05" font-size="11">)</text>
<text transform="translate(271.60,44.95) scale(1.140,1)" font-size="10.7" font-style="italic">η</text><text transform="translate(277.80,48.00) scale(1.100,1)" font-size="7.8" font-style="italic">B</text><text x="287.50" y="44.85" font-size="11">(</text><text transform="translate(291.30,44.95) scale(1.140,1)" font-size="10.7" font-style="italic">η</text><text transform="translate(297.70,48.00) scale(1.100,1)" font-size="7.8" font-style="italic">B</text><text transform="translate(299.80,37.95) scale(1.060,1)" font-size="8.6" font-style="italic">in</text><text x="307.40" y="44.85" font-size="11">=</text><text x="318.10" y="44.85" font-size="11">0</text><text x="325.00" y="44.85" font-size="11">,</text><text transform="translate(332.50,44.95) scale(1.140,1)" font-size="10.7" font-style="italic">η</text><text transform="translate(339.20,48.00) scale(1.100,1)" font-size="7.8" font-style="italic">L</text><text transform="translate(344.60,49.95) scale(1.050,1)" font-size="6.5" font-style="italic">I</text><text transform="translate(340.80,37.95) scale(1.060,1)" font-size="8.6" font-style="italic">in</text><text x="349.40" y="44.85" font-size="11">=</text><text x="360.00" y="44.85" font-size="11">0</text><text x="366.90" y="44.85" font-size="11">,</text><text transform="translate(373.30,44.95) scale(1.140,1)" font-size="10.7" font-style="italic">η</text><text transform="translate(379.80,48.00) scale(1.100,1)" font-size="7.8" font-style="italic">N</text><text transform="translate(386.00,49.95) scale(1.050,1)" font-size="7" font-style="italic">α</text><text transform="translate(383.90,37.95) scale(1.060,1)" font-size="8.6" font-style="italic">in</text><text x="393.70" y="44.85" font-size="11">=</text><text x="403.10" y="44.85" font-size="11">0</text><text x="409.90" y="44.85" font-size="11">)</text>
<text transform="translate(271.60,66.45) scale(1.140,1)" font-size="10.7" font-style="italic">η</text><text transform="translate(277.80,69.50) scale(1.100,1)" font-size="7.8" font-style="italic">B</text><text x="287.50" y="66.35" font-size="11">(</text><text transform="translate(291.30,66.45) scale(1.140,1)" font-size="10.7" font-style="italic">η</text><text transform="translate(297.70,69.50) scale(1.100,1)" font-size="7.8" font-style="italic">B</text><text transform="translate(299.80,59.45) scale(1.060,1)" font-size="8.6" font-style="italic">in</text><text x="307.40" y="66.35" font-size="11">=</text><text x="318.60" y="66.35" font-size="11">10</text><text x="330.30" y="58.45" font-size="7.3">-</text><text x="333.00" y="58.45" font-size="7.3">1</text><text x="338.40" y="66.35" font-size="11">,</text><text transform="translate(345.90,66.45) scale(1.140,1)" font-size="10.7" font-style="italic">η</text><text transform="translate(352.60,69.50) scale(1.100,1)" font-size="7.8" font-style="italic">L</text><text transform="translate(358.00,71.45) scale(1.050,1)" font-size="6.5" font-style="italic">I</text><text transform="translate(354.20,59.45) scale(1.060,1)" font-size="8.6" font-style="italic">in</text><text x="362.80" y="66.35" font-size="11">=</text><text x="373.90" y="66.35" font-size="11">-</text><text x="378.70" y="66.35" font-size="11">10</text><text x="390.40" y="58.45" font-size="7.3">-</text><text x="393.10" y="58.45" font-size="7.3">1</text><text x="398.50" y="66.35" font-size="11">,</text><text transform="translate(405.80,66.45) scale(1.140,1)" font-size="10.7" font-style="italic">η</text><text transform="translate(412.30,69.50) scale(1.100,1)" font-size="7.8" font-style="italic">N</text><text transform="translate(418.50,71.45) scale(1.050,1)" font-size="7" font-style="italic">α</text><text transform="translate(416.40,59.45) scale(1.060,1)" font-size="8.6" font-style="italic">in</text><text x="426.20" y="66.35" font-size="11">=</text><text x="436.10" y="66.35" font-size="11">1</text><text x="442.40" y="66.35" font-size="11">)</text>
<text transform="translate(271.60,88.95) scale(1.140,1)" font-size="10.7" font-style="italic">η</text><text transform="translate(277.80,92.00) scale(1.100,1)" font-size="7.8" font-style="italic">B</text><text x="287.50" y="88.85" font-size="11">(</text><text transform="translate(291.30,88.95) scale(1.140,1)" font-size="10.7" font-style="italic">η</text><text transform="translate(297.70,92.00) scale(1.100,1)" font-size="7.8" font-style="italic">B</text><text transform="translate(299.80,81.95) scale(1.060,1)" font-size="8.6" font-style="italic">in</text><text x="307.40" y="88.85" font-size="11">=</text><text x="318.60" y="88.85" font-size="11">-</text><text x="323.40" y="88.85" font-size="11">10</text><text x="335.10" y="80.95" font-size="7.3">-</text><text x="337.80" y="80.95" font-size="7.3">1</text><text x="343.20" y="88.85" font-size="11">,</text><text transform="translate(350.70,88.95) scale(1.140,1)" font-size="10.7" font-style="italic">η</text><text transform="translate(357.40,92.00) scale(1.100,1)" font-size="7.8" font-style="italic">L</text><text transform="translate(362.80,93.95) scale(1.050,1)" font-size="6.5" font-style="italic">I</text><text transform="translate(359.00,81.95) scale(1.060,1)" font-size="8.6" font-style="italic">in</text><text x="367.60" y="88.85" font-size="11">=</text><text x="378.70" y="88.85" font-size="11">10</text><text x="390.40" y="80.95" font-size="7.3">-</text><text x="393.10" y="80.95" font-size="7.3">1</text><text x="398.50" y="88.85" font-size="11">,</text><text transform="translate(405.80,88.95) scale(1.140,1)" font-size="10.7" font-style="italic">η</text><text transform="translate(412.30,92.00) scale(1.100,1)" font-size="7.8" font-style="italic">N</text><text transform="translate(418.50,93.95) scale(1.050,1)" font-size="7" font-style="italic">α</text><text transform="translate(416.40,81.95) scale(1.060,1)" font-size="8.6" font-style="italic">in</text><text x="426.20" y="88.85" font-size="11">=</text><text x="436.10" y="88.85" font-size="11">1</text><text x="442.40" y="88.85" font-size="11">)</text>
<text transform="translate(271.60,110.95) scale(1.140,1)" font-size="10.7" font-style="italic">η</text><text transform="translate(277.80,114.00) scale(1.100,1)" font-size="7.8" font-style="italic">B</text><text x="287.50" y="110.85" font-size="11">(</text><text transform="translate(291.30,110.95) scale(1.140,1)" font-size="10.7" font-style="italic">η</text><text transform="translate(297.70,114.00) scale(1.100,1)" font-size="7.8" font-style="italic">B</text><text transform="translate(299.80,103.95) scale(1.060,1)" font-size="8.6" font-style="italic">in</text><text x="307.40" y="110.85" font-size="11">=</text><text x="318.60" y="110.85" font-size="11">10</text><text x="330.30" y="102.95" font-size="7.3">-</text><text x="333.00" y="102.95" font-size="7.3">2</text><text x="338.40" y="110.85" font-size="11">,</text><text transform="translate(345.90,110.95) scale(1.140,1)" font-size="10.7" font-style="italic">η</text><text transform="translate(352.60,114.00) scale(1.100,1)" font-size="7.8" font-style="italic">L</text><text transform="translate(358.00,115.95) scale(1.050,1)" font-size="6.5" font-style="italic">I</text><text transform="translate(354.20,103.95) scale(1.060,1)" font-size="8.6" font-style="italic">in</text><text x="362.80" y="110.85" font-size="11">=</text><text x="373.90" y="110.85" font-size="11">-</text><text x="378.70" y="110.85" font-size="11">10</text><text x="390.40" y="102.95" font-size="7.3">-</text><text x="393.10" y="102.95" font-size="7.3">2</text><text x="398.50" y="110.85" font-size="11">,</text><text transform="translate(405.80,110.95) scale(1.140,1)" font-size="10.7" font-style="italic">η</text><text transform="translate(412.30,114.00) scale(1.100,1)" font-size="7.8" font-style="italic">N</text><text transform="translate(418.50,115.95) scale(1.050,1)" font-size="7" font-style="italic">α</text><text transform="translate(416.40,103.95) scale(1.060,1)" font-size="8.6" font-style="italic">in</text><text x="426.20" y="110.85" font-size="11">=</text><text x="436.10" y="110.85" font-size="11">1</text><text x="442.40" y="110.85" font-size="11">)</text>
<text transform="translate(271.60,133.45) scale(1.140,1)" font-size="10.7" font-style="italic">η</text><text transform="translate(277.80,136.50) scale(1.100,1)" font-size="7.8" font-style="italic">B</text><text x="287.50" y="133.35" font-size="11">(</text><text transform="translate(291.30,133.45) scale(1.140,1)" font-size="10.7" font-style="italic">η</text><text transform="translate(297.70,136.50) scale(1.100,1)" font-size="7.8" font-style="italic">B</text><text transform="translate(299.80,126.45) scale(1.060,1)" font-size="8.6" font-style="italic">in</text><text x="307.40" y="133.35" font-size="11">=</text><text x="318.60" y="133.35" font-size="11">-</text><text x="323.40" y="133.35" font-size="11">10</text><text x="335.10" y="125.45" font-size="7.3">-</text><text x="337.80" y="125.45" font-size="7.3">2</text><text x="343.20" y="133.35" font-size="11">,</text><text transform="translate(350.70,133.45) scale(1.140,1)" font-size="10.7" font-style="italic">η</text><text transform="translate(357.40,136.50) scale(1.100,1)" font-size="7.8" font-style="italic">L</text><text transform="translate(362.80,138.45) scale(1.050,1)" font-size="6.5" font-style="italic">I</text><text transform="translate(359.00,126.45) scale(1.060,1)" font-size="8.6" font-style="italic">in</text><text x="367.60" y="133.35" font-size="11">=</text><text x="378.70" y="133.35" font-size="11">10</text><text x="390.40" y="125.45" font-size="7.3">-</text><text x="393.10" y="125.45" font-size="7.3">2</text><text x="398.50" y="133.35" font-size="11">,</text><text transform="translate(405.80,133.45) scale(1.140,1)" font-size="10.7" font-style="italic">η</text><text transform="translate(412.30,136.50) scale(1.100,1)" font-size="7.8" font-style="italic">N</text><text transform="translate(418.50,138.45) scale(1.050,1)" font-size="7" font-style="italic">α</text><text transform="translate(416.40,126.45) scale(1.060,1)" font-size="8.6" font-style="italic">in</text><text x="426.20" y="133.35" font-size="11">=</text><text x="436.10" y="133.35" font-size="11">1</text><text x="442.40" y="133.35" font-size="11">)</text>
<text transform="translate(73.7,31.1) scale(0.9,1)" font-size="12.8" font-style="italic">m</text><text x="82.2" y="33.5" font-size="9.6" font-style="italic">N</text><text x="94.0" y="31.1" font-size="12.8">= 250 GeV</text>
<text font-size="13"><tspan x="228.9" y="336.6" font-style="italic">z</tspan><tspan x="238.3" y="336.6">=</tspan></text>
<line x1="249.5" y1="333.2" x2="270.2" y2="333.2" stroke="#000" stroke-width="1"/>
<text font-size="12.3"><tspan x="250.6" y="327.8" font-style="italic">m</tspan><tspan x="260.3" y="330.6" font-size="8.8" font-style="italic">N</tspan><tspan x="267.3" y="331.9" font-size="5.6" font-style="italic">1</tspan><tspan x="255.0" y="347.3" font-style="italic">T</tspan></text>
<text transform="translate(5.6,156.0) rotate(-90) scale(1.42,1)" font-size="8.6" font-style="italic">η</text><text transform="translate(11.7,149.7) rotate(-90) scale(1.03,1)" font-size="9">B</text>
</g>
</svg>
</body></html>
